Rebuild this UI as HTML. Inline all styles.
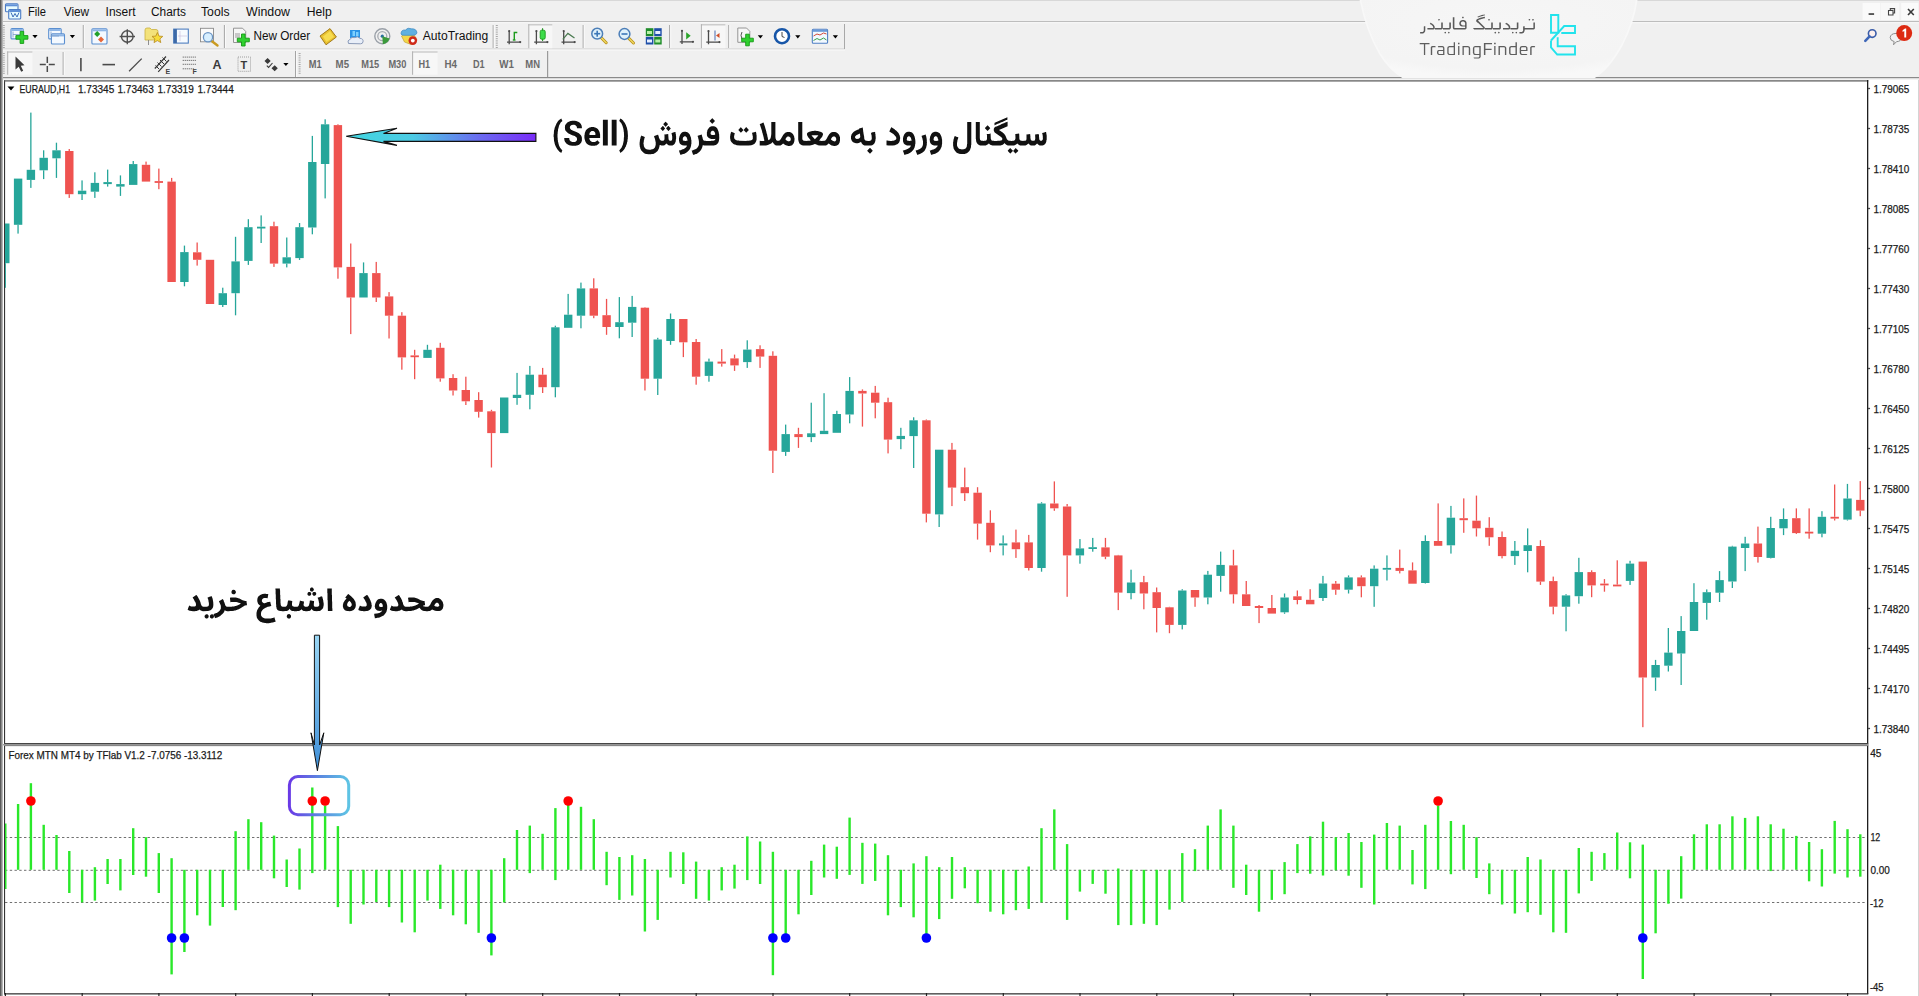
<!DOCTYPE html>
<html><head><meta charset="utf-8"><style>
*{margin:0;padding:0;box-sizing:border-box}
html,body{width:1919px;height:996px;overflow:hidden;background:#f0f0f0;font-family:"Liberation Sans",sans-serif;position:relative}
svg{position:absolute;left:0;top:0}
svg text{font-family:"Liberation Sans",sans-serif}
</style></head><body>
<svg width="1919" height="996" viewBox="0 0 1919 996">
<defs>
<clipPath id="cm"><rect x="5" y="81.4" width="1862" height="661.9"/></clipPath>
<clipPath id="cs"><rect x="5" y="746" width="1862" height="247"/></clipPath>
<linearGradient id="ga" x1="0" y1="0" x2="1" y2="0"><stop offset="0" stop-color="#42d6e0"/><stop offset="0.35" stop-color="#4ccbe4"/><stop offset="0.7" stop-color="#6a6cf0"/><stop offset="1" stop-color="#7a2cf8"/></linearGradient>
<linearGradient id="gv" x1="0" y1="0" x2="0" y2="1"><stop offset="0" stop-color="#9ad6f4"/><stop offset="1" stop-color="#3f8fd8"/></linearGradient>
<linearGradient id="gb" x1="0" y1="0" x2="1" y2="0"><stop offset="0" stop-color="#6a3ae6"/><stop offset="0.5" stop-color="#5b86e0"/><stop offset="1" stop-color="#5ec4e4"/></linearGradient>
<radialGradient id="gl" cx="0.5" cy="0.3" r="0.7"><stop offset="0" stop-color="#f6f6f6"/><stop offset="0.85" stop-color="#f4f4f4"/><stop offset="1" stop-color="#f8f8f8"/></radialGradient>
</defs>
<!-- frame -->
<rect x="0" y="0" width="1" height="996" fill="#5a5a5a"/>
<rect x="1" y="0" width="1" height="996" fill="#8a8a8a"/>
<rect x="2" y="0" width="1" height="996" fill="#b4b4b4"/>
<rect x="3" y="0" width="1916" height="1" fill="#d8d8d8"/>
<rect x="3" y="21" width="1916" height="1.2" fill="#bdbdbd"/>
<rect x="3" y="22.2" width="1916" height="1" fill="#fbfbfb"/>
<rect x="3" y="48.5" width="842" height="1" fill="#cdcdcd"/>
<rect x="3" y="49.5" width="842" height="1" fill="#fafafa"/>
<rect x="3" y="77" width="1916" height="1.2" fill="#8a8a8a"/>
<rect x="3" y="78.2" width="1916" height="1.6" fill="#dcdcdc"/>
<!-- logo overlay -->
<path d="M1360 -2H1637Q1634 22 1622 45Q1608 70 1594 77.5H1403Q1390 70 1380 54Q1366 30 1360 -2Z" fill="url(#gl)" stroke="#f8f8f8" stroke-width="1.6"/>
<path fill="#5a5a5a" d="M1516.2 31.8L1516.1 31.9L1515.9 31.9L1515.6 32.2L1515.5 32.8L1515.9 33.3L1516.4 33.4L1516.5 33.3L1516.8 33.3L1517.0 33.0L1517.2 32.5L1517.0 32.4L1517.0 32.2L1516.8 31.9ZM1512.7 31.8L1512.6 31.9L1512.3 31.9L1512.0 32.2L1511.9 32.7L1512.0 32.8L1512.0 33.0L1512.3 33.3L1512.8 33.4L1513.0 33.3L1513.2 33.3L1513.5 33.0L1513.6 32.5L1513.5 32.4L1513.5 32.2L1513.2 31.9ZM1498.8 31.8L1498.2 32.0L1498.1 32.3L1498.1 33.0L1498.4 33.3L1498.9 33.4L1499.0 33.3L1499.3 33.3L1499.5 33.0L1499.7 32.4L1499.3 31.9ZM1495.2 31.8L1494.7 32.0L1494.5 32.3L1494.5 32.9L1494.7 33.2L1495.2 33.4L1495.5 33.4L1496.1 32.9L1496.1 32.4L1495.7 31.9ZM1448.8 31.8L1448.6 31.9L1448.4 31.9L1448.1 32.2L1448.0 32.8L1448.4 33.3L1448.9 33.4L1449.0 33.3L1449.3 33.3L1449.5 33.0L1449.7 32.5L1449.5 32.4L1449.5 32.2L1449.3 31.9ZM1445.2 31.8L1445.1 31.9L1444.8 31.9L1444.5 32.2L1444.4 32.7L1444.5 32.8L1444.5 33.0L1444.8 33.3L1445.3 33.4L1445.5 33.3L1445.7 33.3L1446.0 33.0L1446.1 32.5L1446.0 32.4L1446.0 32.2L1445.7 31.9ZM1425.3 26.2L1424.4 26.2L1424.3 26.3L1424.0 26.3L1423.8 26.7L1423.8 30.5L1423.4 31.4L1422.6 32.0L1420.1 32.0L1420.1 33.5L1422.6 33.5L1423.6 33.2L1424.4 32.5L1425.1 31.4L1425.1 31.2L1425.2 31.0L1425.2 30.3L1425.3 30.2ZM1534.9 22.4L1533.4 22.4L1533.4 27.9L1533.2 28.0L1524.8 28.0L1524.7 27.9L1524.7 26.2L1523.8 26.2L1523.5 26.3L1523.1 26.8L1523.1 30.7L1522.8 31.3L1521.9 32.0L1519.4 32.0L1519.4 33.5L1521.9 33.5L1522.0 33.4L1522.7 33.3L1523.4 32.9L1523.9 32.4L1524.3 31.8L1524.3 31.5L1524.5 31.0L1524.5 30.7L1524.7 30.5L1524.7 29.7L1524.8 29.5L1533.5 29.5L1534.3 29.2L1534.7 28.8L1534.9 28.2ZM1518.4 22.4L1516.8 22.4L1516.8 27.9L1516.6 28.0L1510.5 28.0L1510.3 27.9L1510.2 26.5L1509.4 25.0L1507.7 23.6L1506.9 23.2L1506.6 22.9L1506.0 22.7L1505.3 23.9L1506.9 24.8L1508.1 25.9L1508.6 26.8L1508.8 27.9L1508.6 28.0L1503.0 28.0L1503.0 29.5L1508.9 29.5L1509.5 29.3L1509.9 28.9L1510.3 28.2L1510.5 28.3L1510.5 29.5L1516.9 29.5L1517.7 29.2L1518.0 28.9L1518.4 28.0ZM1450.9 22.4L1449.3 22.4L1449.3 27.9L1449.1 28.0L1442.8 28.0L1442.7 27.9L1442.8 27.8L1442.8 22.4L1441.2 22.4L1441.2 27.9L1441.1 28.0L1434.8 28.0L1434.7 27.9L1434.8 27.8L1434.7 27.7L1434.7 26.7L1433.8 24.9L1432.3 23.7L1431.1 23.1L1430.9 22.8L1430.5 22.7L1429.8 23.9L1431.4 24.8L1432.4 25.8L1433.0 26.5L1433.1 27.3L1433.2 27.4L1433.2 27.9L1433.1 28.0L1427.4 28.0L1427.4 29.5L1433.4 29.5L1434.1 29.2L1434.8 28.2L1434.9 28.3L1434.9 29.5L1441.2 29.5L1441.9 29.3L1442.6 28.7L1442.8 28.2L1443.0 28.3L1443.0 29.5L1449.3 29.5L1449.9 29.3L1450.7 28.4L1450.7 27.9L1450.9 27.8ZM1532.8 18.9L1532.3 19.2L1532.2 19.4L1532.2 20.2L1532.4 20.4L1533.0 20.6L1533.1 20.4L1533.4 20.4L1533.6 20.2L1533.8 19.6L1533.4 19.1ZM1529.3 18.9L1528.8 19.2L1528.6 19.4L1528.6 20.1L1528.8 20.3L1529.3 20.6L1529.5 20.6L1530.2 20.1L1530.2 19.6L1529.8 19.1ZM1488.9 18.9L1488.4 19.3L1488.2 19.6L1488.2 20.1L1488.6 20.4L1489.1 20.6L1489.8 20.2L1489.8 19.4L1489.7 19.2L1489.1 18.9ZM1438.9 18.9L1438.4 19.2L1438.2 19.4L1438.2 20.2L1438.9 20.6L1439.1 20.6L1439.8 20.1L1439.8 19.6L1439.4 19.1ZM1452.8 17.3L1452.8 27.8L1453.0 27.9L1453.0 28.4L1453.5 29.2L1454.3 29.5L1464.9 29.5L1465.1 29.4L1465.7 29.3L1466.4 28.7L1466.5 28.0L1466.6 27.9L1466.6 22.9L1466.5 22.8L1466.5 22.3L1466.1 21.4L1465.6 20.8L1464.5 20.2L1463.6 20.1L1463.5 19.9L1462.7 19.9L1462.6 20.1L1461.5 20.2L1460.5 20.8L1459.7 21.8L1459.7 22.1L1459.4 22.4L1459.4 22.8L1459.3 22.9L1459.3 23.9L1459.4 24.1L1459.4 24.5L1459.9 25.4L1460.6 26.0L1461.1 26.3L1461.9 26.4L1462.0 26.5L1464.9 26.5L1465.1 26.7L1465.1 27.9L1464.9 28.0L1454.5 28.0L1454.4 27.9L1454.4 17.2L1453.0 17.2ZM1461.8 21.7L1462.3 21.4L1463.5 21.4L1464.7 22.2L1465.1 22.9L1465.1 25.3L1464.9 25.4L1462.7 25.4L1462.6 25.3L1462.2 25.3L1461.0 24.3L1461.0 24.1L1460.9 23.9L1460.9 22.9L1461.2 22.2ZM1473.0 28.0L1474.1 29.5L1483.4 29.5L1484.0 29.3L1484.4 28.9L1484.8 28.2L1484.9 28.3L1484.9 29.5L1491.4 29.5L1492.2 29.2L1492.4 28.9L1492.8 28.0L1493.0 28.2L1493.0 29.5L1499.4 29.5L1500.2 29.2L1500.6 28.8L1500.9 28.2L1500.9 22.4L1499.3 22.4L1499.3 27.9L1499.1 28.0L1493.0 28.0L1492.8 27.9L1492.8 22.4L1491.2 22.4L1491.2 27.9L1491.1 28.0L1484.9 28.0L1484.8 27.9L1484.8 27.5L1484.5 26.9L1478.0 20.6L1478.0 20.4L1479.0 19.8L1479.3 19.8L1479.9 19.4L1480.2 19.4L1481.5 18.9L1481.9 18.9L1482.4 18.7L1482.8 18.7L1483.0 18.6L1484.9 18.2L1484.9 16.8L1483.5 16.9L1483.4 17.1L1481.4 17.4L1481.2 17.6L1479.4 18.1L1478.8 18.4L1478.5 18.4L1476.9 19.3L1476.5 19.7L1476.2 20.3L1476.2 21.2L1476.5 21.7L1477.6 22.7L1478.0 22.7L1483.4 27.9L1483.2 28.0ZM1462.8 16.7L1462.7 16.8L1462.4 16.8L1462.2 17.1L1462.0 17.6L1462.2 17.7L1462.2 17.9L1462.4 18.2L1463.0 18.3L1463.1 18.2L1463.4 18.2L1463.6 17.9L1463.8 17.4L1463.6 17.3L1463.6 17.1L1463.4 16.8ZM1484.8 14.6L1483.2 14.7L1483.1 14.8L1481.6 15.1L1480.7 15.4L1480.3 15.4L1479.9 15.7L1479.7 15.7L1478.6 16.2L1478.4 16.2L1477.4 16.7L1477.4 16.8L1478.0 17.6L1479.1 16.9L1479.4 16.9L1479.8 16.7L1480.1 16.7L1481.0 16.3L1481.9 16.2L1482.4 15.9L1482.8 15.9L1483.0 15.8L1483.4 15.8L1484.0 15.6L1484.5 15.6L1484.8 15.4Z"/>
<path fill="#5e5e5e" d="M1534.5 46.1L1531.8 46.1L1530.9 46.4L1530.2 47.2L1530.2 55.0L1531.6 55.0L1531.6 47.6L1531.8 47.4L1532.4 47.2L1535.1 47.2L1535.1 46.6ZM1520.8 46.4L1520.4 46.6L1520.1 47.1L1519.9 47.6L1519.9 47.9L1519.7 48.0L1519.7 53.1L1519.9 53.2L1519.9 53.5L1520.1 54.1L1520.8 54.7L1521.7 55.0L1526.5 55.0L1527.2 54.5L1527.2 54.0L1522.1 54.0L1521.6 53.7L1521.1 53.1L1521.1 51.1L1521.2 51.0L1527.5 51.0L1527.5 48.3L1527.4 48.2L1527.4 47.6L1527.2 47.3L1527.2 47.1L1526.5 46.4L1525.6 46.1L1521.7 46.1ZM1521.1 47.9L1521.7 47.3L1521.9 47.3L1522.0 47.2L1525.2 47.2L1525.3 47.3L1525.6 47.3L1525.9 47.6L1526.1 48.0L1526.1 49.9L1526.0 50.0L1521.2 50.0L1521.1 49.9ZM1498.5 46.1L1498.5 55.0L1499.9 55.0L1499.9 47.3L1500.0 47.2L1504.0 47.2L1504.1 47.3L1504.3 47.3L1504.8 47.7L1504.9 47.9L1504.9 55.0L1506.3 55.0L1506.3 47.9L1506.2 47.8L1506.2 47.5L1505.7 46.7L1505.2 46.4L1504.3 46.1ZM1494.2 46.1L1494.2 55.0L1495.5 55.0L1495.5 46.1ZM1474.4 46.2L1474.0 46.4L1473.3 47.1L1473.3 47.3L1473.1 47.7L1473.1 48.2L1472.9 48.3L1472.9 52.9L1473.1 53.0L1473.2 53.7L1473.4 54.2L1474.0 54.7L1474.5 54.9L1474.9 54.9L1475.0 55.0L1479.2 55.0L1479.3 55.2L1479.3 56.6L1479.2 56.7L1479.2 56.9L1478.9 57.2L1478.3 57.5L1473.7 57.5L1473.7 58.1L1474.3 58.5L1478.8 58.5L1478.9 58.4L1479.5 58.3L1480.4 57.6L1480.7 56.7L1480.7 46.1L1474.9 46.1L1474.8 46.2ZM1474.9 47.3L1475.1 47.3L1475.2 47.2L1479.2 47.2L1479.3 47.3L1479.3 53.8L1479.2 54.0L1475.5 54.0L1475.3 53.8L1475.0 53.8L1474.5 53.5L1474.3 53.0L1474.3 48.0L1474.5 47.6ZM1462.5 46.1L1462.5 55.0L1463.8 55.0L1463.8 47.3L1463.9 47.2L1467.8 47.2L1468.5 47.5L1468.8 48.2L1468.8 55.0L1470.2 55.0L1470.2 48.6L1470.1 48.5L1470.1 47.7L1469.8 47.0L1469.2 46.4L1468.7 46.2L1468.3 46.2L1468.2 46.1ZM1458.1 46.1L1458.1 55.0L1459.4 55.0L1459.4 46.1ZM1438.5 46.1L1437.9 46.5L1437.9 47.2L1442.1 47.2L1442.3 47.3L1442.5 47.3L1443.1 47.9L1443.1 49.8L1442.9 49.9L1438.9 49.9L1438.8 50.0L1438.5 50.0L1437.6 50.6L1437.2 51.1L1437.1 51.8L1437.0 51.9L1437.0 53.0L1437.1 53.1L1437.1 53.5L1437.5 54.2L1437.9 54.6L1438.6 54.9L1439.1 54.9L1439.2 55.0L1444.4 55.0L1444.4 47.9L1444.0 46.8L1443.6 46.5L1442.5 46.1ZM1438.5 51.4L1438.9 51.0L1439.2 51.0L1439.3 50.9L1442.9 50.9L1443.1 51.0L1443.1 53.8L1442.9 54.0L1439.4 54.0L1438.8 53.7L1438.4 53.1L1438.4 51.8L1438.5 51.7ZM1435.1 46.1L1432.3 46.1L1431.2 46.6L1430.8 47.1L1430.8 55.0L1432.2 55.0L1432.2 47.6L1432.4 47.4L1433.0 47.2L1435.6 47.2L1435.6 46.5ZM1492.0 43.1L1483.9 43.1L1483.9 55.0L1485.4 55.0L1485.4 50.0L1485.5 49.9L1491.6 49.9L1491.6 48.7L1485.5 48.7L1485.4 48.6L1485.4 44.4L1485.5 44.3L1492.0 44.3ZM1419.7 43.1L1419.7 44.3L1423.8 44.3L1423.9 44.4L1423.9 55.0L1425.2 55.0L1425.2 44.4L1425.4 44.3L1429.5 44.3L1429.5 43.1ZM1494.2 42.7L1494.1 42.8L1494.1 44.2L1495.7 44.2L1495.7 42.8L1495.5 42.7ZM1458.0 42.7L1458.0 44.2L1459.5 44.2L1459.5 42.7ZM1516.9 42.3L1515.5 42.3L1515.5 46.0L1515.4 46.1L1511.1 46.1L1509.9 46.5L1509.6 46.8L1509.2 47.5L1509.2 47.8L1509.1 47.9L1509.1 53.2L1509.2 53.3L1509.2 53.6L1509.7 54.4L1510.6 54.9L1511.0 54.9L1511.1 55.0L1516.9 55.0ZM1511.1 47.3L1511.3 47.3L1511.4 47.2L1515.4 47.2L1515.5 47.3L1515.5 53.8L1515.4 54.0L1511.5 54.0L1511.0 53.7L1510.6 53.4L1510.5 53.2L1510.5 47.9ZM1455.0 42.3L1453.7 42.3L1453.7 46.0L1453.5 46.1L1449.2 46.1L1448.3 46.4L1448.0 46.6L1447.6 47.1L1447.4 47.6L1447.4 47.9L1447.3 48.0L1447.3 53.1L1447.4 53.2L1447.4 53.5L1447.6 54.1L1448.3 54.7L1449.2 55.0L1455.0 55.0ZM1449.2 47.3L1449.4 47.3L1449.6 47.2L1453.5 47.2L1453.7 47.3L1453.7 53.8L1453.5 54.0L1449.7 54.0L1449.1 53.7L1448.9 53.5L1448.6 53.1L1448.6 47.9Z"/>
<g fill="none" stroke="#22e3ec" stroke-width="1.9" stroke-linejoin="miter">
<path d="M1551 15H1558.3V32.8H1551Z"/>
<path d="M1551 40.5L1564.2 26H1575V33H1561.3"/>
<path d="M1551 40.5V47.3L1557.2 54.5H1575V46.2H1557.7V37.3"/>
</g>
<!-- window controls -->
<rect x="1862.6" y="3" width="17.5" height="17" fill="#fafafa"/>
<rect x="1880.6" y="3" width="18.6" height="17" fill="#f8f8f8"/>
<rect x="1901.2" y="3" width="17.1" height="17" fill="#fafafa"/>
<rect x="1868.6" y="13.2" width="5.5" height="1.7" fill="#444"/>
<path d="M1888.5 10.5H1893V15H1888.5Z M1890.3 10V8.6H1894.6V13H1893.2" fill="none" stroke="#444" stroke-width="1.1"/>
<path d="M1908 9L1913.8 15M1913.8 9L1908 15" stroke="#3a3a3a" stroke-width="1.6"/>
<!-- search + chat -->
<circle cx="1872.2" cy="33.6" r="3.8" fill="#fdf0ee" stroke="#3a5ca8" stroke-width="1.6"/>
<path d="M1869.6 36.4L1865.3 40.8" stroke="#3e67b8" stroke-width="2.6" stroke-linecap="round"/>
<path d="M1893.5 44.8L1894.2 41.6Q1890.2 40.6 1890.2 37.6Q1890.5 33.6 1896 33.4Q1901.5 33.6 1901.5 37.6Q1901.3 41.4 1896.5 41.7Z" fill="#f2f2f2" stroke="#8c8c8c" stroke-width="1"/>
<circle cx="1904.2" cy="33.1" r="8" fill="#dd2a12"/>
<path d="M1902.6 30.2L1905 28.6H1906.2V37.6H1904.3V31L1902.6 31.9Z" fill="#fff"/>
<rect x="5.5" y="3.8" width="12.5" height="8" rx="1" fill="#e8fbff" stroke="#4d7cc4" stroke-width="1.1"/><rect x="6" y="4.3" width="11.5" height="2" fill="#5f8fd6"/><rect x="8.7" y="9.5" width="12" height="9.5" rx="1" fill="#e8fbff" stroke="#4d7cc4" stroke-width="1.1"/><rect x="9.2" y="10" width="11" height="2" fill="#5f8fd6"/><path d="M11 12.5L13 17L15 13.5L17 17L19 12.5" stroke="#3f6fb8" stroke-width="1" fill="none"/><rect x="2.8" y="25" width="2" height="1" fill="#a8a8a8"/><rect x="2.8" y="27.2" width="2" height="1" fill="#a8a8a8"/><rect x="2.8" y="29.4" width="2" height="1" fill="#a8a8a8"/><rect x="2.8" y="31.599999999999998" width="2" height="1" fill="#a8a8a8"/><rect x="2.8" y="33.8" width="2" height="1" fill="#a8a8a8"/><rect x="2.8" y="36.0" width="2" height="1" fill="#a8a8a8"/><rect x="2.8" y="38.2" width="2" height="1" fill="#a8a8a8"/><rect x="2.8" y="40.400000000000006" width="2" height="1" fill="#a8a8a8"/><rect x="2.8" y="42.60000000000001" width="2" height="1" fill="#a8a8a8"/><rect x="2.8" y="44.80000000000001" width="2" height="1" fill="#a8a8a8"/><rect x="2.8" y="47.000000000000014" width="2" height="1" fill="#a8a8a8"/><rect x="11.0" y="28.5" width="12.2" height="10.4" rx="1" fill="#f4f9ff" stroke="#5b8fd0" stroke-width="1.1"/><rect x="11.5" y="29" width="11.2" height="2" fill="#8fb6e6"/><path d="M13 31.5V37.5M13 34.5H20" stroke="#7a9cc8" stroke-width="0.8"/><path d="M20.099999999999998 31.4H23.7V35.6H27.9V39.199999999999996H23.7V43.4H20.099999999999998V39.199999999999996H15.899999999999999V35.6H20.099999999999998Z" fill="#2fd12f" stroke="#139a13" stroke-width="0.9"/><path d="M32.4 35H37.6L35.0 38.2Z" fill="#000"/><rect x="48.7" y="28.5" width="12.5" height="10.4" rx="1" fill="#f4f9ff" stroke="#5b8fd0" stroke-width="1.1"/><rect x="49.2" y="29" width="11.5" height="2" fill="#8fb6e6"/><rect x="51.4" y="33.9" width="13.1" height="10.1" rx="1" fill="#f4f9ff" stroke="#5b8fd0" stroke-width="1.1"/><rect x="51.9" y="34.4" width="12.1" height="2" fill="#8fb6e6"/><path d="M51 31.5V37M51 36H59" stroke="#7a9cc8" stroke-width="0.8"/><path d="M69.8 35H75.0L72.39999999999999 38.2Z" fill="#000"/><rect x="82.8" y="25" width="1" height="23" fill="#9c9c9c"/><rect x="83.8" y="25" width="1" height="23" fill="#fbfbfb"/><rect x="91.9" y="28.8" width="15.100000000000001" height="15.2" rx="1" fill="#f4f9ff" stroke="#5b8fd0" stroke-width="1.1"/><rect x="92.4" y="29.3" width="14.100000000000001" height="2" fill="#8fb6e6"/><path d="M97.2 31L100.2 34L97.2 37L94.2 34Z" fill="#1f9f2a"/><path d="M101 36.4L104 39.4L101 42.4L98 39.4Z" fill="#e8683a"/><circle cx="127.3" cy="36.5" r="5.8" fill="none" stroke="#505050" stroke-width="1.4"/><path d="M119.6 36.5H135M127.3 29.2V44.2" stroke="#505050" stroke-width="1.4"/><path d="M145 30Q145 28 147 28H150L151.5 29.5H156Q158 29.5 158 31.5V40H145Z" fill="#f3e27a" stroke="#c9b040" stroke-width="0.8"/><path d="M148.5 40V45" stroke="#777" stroke-width="0.8"/><path d="M157.4 32.5L159 36.1L162.8 36.4L159.9 38.9L160.8 42.6L157.4 40.6L154 42.6L154.9 38.9L152 36.4L155.8 36.1Z" fill="#f6dc3a" stroke="#b88a20" stroke-width="0.8"/><rect x="173.7" y="29.1" width="14.6" height="14" fill="#f7fbff" stroke="#4f7fc0" stroke-width="1.1"/><rect x="173.7" y="29.1" width="3.2" height="14" fill="#3d6aa8"/><path d="M180 31V41M178 36H187" stroke="#c8b8d8" stroke-width="0.6"/><rect x="200.5" y="28.3" width="13" height="13.5" fill="#fafafa" stroke="#8a8a8a" stroke-width="0.9"/><path d="M211 40.5L217.5 45.5" stroke="#c99a20" stroke-width="2.4" stroke-linecap="round"/><circle cx="208" cy="37.2" r="4.6" fill="#d7efff" stroke="#6a94c4" stroke-width="1.3"/><rect x="223.9" y="25" width="1" height="23" fill="#9c9c9c"/><rect x="224.9" y="25" width="1" height="23" fill="#fbfbfb"/><path d="M233.5 28.2H242.5L245.7 31.4V42.5H233.5Z" fill="#f6f6f6" stroke="#8a8a8a" stroke-width="0.9"/><rect x="235" y="33" width="5" height="5" fill="#c8c8c8"/><path d="M241.5 34H245.10000000000002V38.2H249.3V41.8H245.10000000000002V46H241.5V41.8H237.3V38.2H241.5Z" fill="#2fd12f" stroke="#139a13" stroke-width="0.9"/><path d="M320 36L330 28.6L336.4 37L326 44.8Z" fill="#e8c030" stroke="#9a7010" stroke-width="0.9"/><path d="M323 36.5L330 31L334 37L326.5 42Z" fill="#f7dc50"/><path d="M350 30H360V38H350Z" fill="#2a93e6"/><path d="M352.5 31H355V36H352.5Z M356 32H358.5V36H356Z" fill="#7cd0ff"/><path d="M348.5 43.5Q346.8 40.5 350 39.3Q351.5 36.6 354.8 37.6Q357.5 35.8 360 38.3Q363.6 38.7 363 41.8Q362.8 43.8 360.5 43.8Z" fill="#e8eef8" stroke="#8a9ab8" stroke-width="1"/><circle cx="382.3" cy="36.2" r="7.5" fill="none" stroke="#9aa0a8" stroke-width="1.4"/><circle cx="382.3" cy="36.2" r="4.5" fill="none" stroke="#a8acb2" stroke-width="1.3"/><circle cx="382.3" cy="36.2" r="1.6" fill="#2a6fa0"/><path d="M382.3 36.2L382.8 44.3Q388 43 389.6 38.5" fill="#3b9a3b"/><path d="M401.5 36L405 33L414.5 35.5L417 40L411 44.5L404.5 42Z" fill="#f3d84a" stroke="#c0a030" stroke-width="0.7"/><path d="M401 34Q401 29.5 405.5 30Q407.5 27 411.5 28.8Q416.5 28.5 417 33Q416 35.5 413 35.3L404 35.3Q401.5 35.5 401 34Z" fill="#5fb0e0" stroke="#3c86c0" stroke-width="0.7"/><circle cx="412.8" cy="40.6" r="4.3" fill="#cf2a1a"/><circle cx="412.8" cy="40.6" r="1.9" fill="#fff"/><rect x="495.8" y="25" width="2" height="1" fill="#a8a8a8"/><rect x="495.8" y="27.2" width="2" height="1" fill="#a8a8a8"/><rect x="495.8" y="29.4" width="2" height="1" fill="#a8a8a8"/><rect x="495.8" y="31.599999999999998" width="2" height="1" fill="#a8a8a8"/><rect x="495.8" y="33.8" width="2" height="1" fill="#a8a8a8"/><rect x="495.8" y="36.0" width="2" height="1" fill="#a8a8a8"/><rect x="495.8" y="38.2" width="2" height="1" fill="#a8a8a8"/><rect x="495.8" y="40.400000000000006" width="2" height="1" fill="#a8a8a8"/><rect x="495.8" y="42.60000000000001" width="2" height="1" fill="#a8a8a8"/><rect x="495.8" y="44.80000000000001" width="2" height="1" fill="#a8a8a8"/><rect x="495.8" y="47.000000000000014" width="2" height="1" fill="#a8a8a8"/><rect x="492.7" y="25" width="1" height="23" fill="#9c9c9c"/><rect x="493.7" y="25" width="1" height="23" fill="#fbfbfb"/><path d="M509.2 31.1V44.300000000000004M507.0 42.1H520.2" stroke="#4a4a4a" stroke-width="1.3" fill="none"/><circle cx="509.2" cy="31.1" r="1.1" fill="#4a4a4a"/><circle cx="520.2" cy="42.1" r="1.1" fill="#4a4a4a"/><path d="M514.3 40V32.5H517.3" stroke="#1d9a1d" stroke-width="1.4" fill="none"/><path d="M512.8 40H515.5" stroke="#1d9a1d" stroke-width="1.4"/><rect x="528.3" y="24.2" width="24" height="24" fill="#f7f7f7"/><rect x="528.3" y="24.2" width="24" height="1.2" fill="#c4c4c4"/><rect x="528.3" y="24.2" width="1" height="24" fill="#b0b0b0"/><path d="M536.4 31.1V44.300000000000004M534.1999999999999 42.1H547.4" stroke="#4a4a4a" stroke-width="1.3" fill="none"/><circle cx="536.4" cy="31.1" r="1.1" fill="#4a4a4a"/><circle cx="547.4" cy="42.1" r="1.1" fill="#4a4a4a"/><path d="M542.6 28.2V41" stroke="#1a8c1a" stroke-width="1"/><rect x="540.2" y="30.2" width="5" height="9" rx="1.5" fill="#3ddc4a" stroke="#1a9a1a" stroke-width="0.9"/><path d="M563.7 31.1V44.300000000000004M561.5 42.1H574.7" stroke="#4a4a4a" stroke-width="1.3" fill="none"/><circle cx="563.7" cy="31.1" r="1.1" fill="#4a4a4a"/><circle cx="574.7" cy="42.1" r="1.1" fill="#4a4a4a"/><path d="M562.8 39.4L567.9 33.4L574.5 37.9" stroke="#4a7a50" stroke-width="1.2" fill="none"/><rect x="582.7" y="25" width="1" height="23" fill="#9c9c9c"/><rect x="583.7" y="25" width="1" height="23" fill="#fbfbfb"/><path d="M600.8000000000001 37.300000000000004L606.2 42.7" stroke="#b8901a" stroke-width="3" stroke-linecap="round"/><path d="M600.8000000000001 37.300000000000004L606.2 42.7" stroke="#f0d860" stroke-width="1.4" stroke-linecap="round"/><circle cx="597.2" cy="33.7" r="5.4" fill="#dff1fb" stroke="#4d7fb8" stroke-width="1.5"/><rect x="594.2" y="32.900000000000006" width="6" height="1.6" fill="#3d78b8"/><rect x="596.4000000000001" y="30.700000000000003" width="1.6" height="6" fill="#3d78b8"/><path d="M628.1 37.6L633.5 43" stroke="#b8901a" stroke-width="3" stroke-linecap="round"/><path d="M628.1 37.6L633.5 43" stroke="#f0d860" stroke-width="1.4" stroke-linecap="round"/><circle cx="624.5" cy="34" r="5.4" fill="#dff1fb" stroke="#4d7fb8" stroke-width="1.5"/><rect x="621.5" y="33.2" width="6" height="1.6" fill="#3d78b8"/><rect x="645.8" y="28.2" width="7.6" height="7.9" fill="#1f8c2a"/><rect x="654.2" y="28.2" width="7.5" height="7.9" fill="#1f4fa8"/><rect x="645.8" y="36.8" width="7.6" height="7.7" fill="#1f4fa8"/><rect x="654.2" y="36.8" width="7.5" height="7.7" fill="#1f8c2a"/><rect x="647" y="31" width="5" height="3" fill="#b8f0a8"/><rect x="655.3" y="31" width="5" height="3" fill="#e8f0ff"/><rect x="647" y="39.5" width="5" height="3" fill="#e8f0ff"/><rect x="655.3" y="39.5" width="5" height="3" fill="#b8f0a8"/><rect x="669.2" y="25" width="1" height="23" fill="#9c9c9c"/><rect x="670.2" y="25" width="1" height="23" fill="#fbfbfb"/><path d="M682 30.799999999999997V44.0M679.8 41.8H693" stroke="#4a4a4a" stroke-width="1.3" fill="none"/><circle cx="682" cy="30.799999999999997" r="1.1" fill="#4a4a4a"/><circle cx="693" cy="41.8" r="1.1" fill="#4a4a4a"/><path d="M686.2 32.2L690.7 35.8L686.2 39.4Z" fill="#2aa42a"/><rect x="700.9" y="24.2" width="24.5" height="24" fill="#f7f7f7"/><rect x="700.9" y="24.2" width="24.5" height="1.2" fill="#c4c4c4"/><rect x="700.9" y="24.2" width="1" height="24" fill="#b0b0b0"/><path d="M708.5 31.1V44.300000000000004M706.3 42.1H719.5" stroke="#4a4a4a" stroke-width="1.3" fill="none"/><circle cx="708.5" cy="31.1" r="1.1" fill="#4a4a4a"/><circle cx="719.5" cy="42.1" r="1.1" fill="#4a4a4a"/><path d="M715 30.5V40.5" stroke="#5878b8" stroke-width="1.1"/><path d="M716 35.5L719.5 33V38Z" fill="#d0502a"/><rect x="728.3" y="25" width="1" height="23" fill="#9c9c9c"/><rect x="729.3" y="25" width="1" height="23" fill="#fbfbfb"/><path d="M737.8 28H746.5L749.8 31.3V42.3H737.8Z" fill="#f7f7f7" stroke="#8a8a8a" stroke-width="0.9"/><path d="M742 32Q740 35 742 39" stroke="#555" stroke-width="1" fill="none"/><path d="M745.7 34.2H749.3V38.2H753.3V41.8H749.3V45.8H745.7V41.8H741.7V38.2H745.7Z" fill="#2fd12f" stroke="#139a13" stroke-width="0.9"/><path d="M757.8 35.2H763.0L760.4 38.400000000000006Z" fill="#000"/><circle cx="782" cy="36.2" r="7" fill="#fff" stroke="#1756a8" stroke-width="2.6"/><path d="M782 32V36.5L784.5 37.5" stroke="#333" stroke-width="0.9" fill="none"/><path d="M795.2 35.2H800.4000000000001L797.8000000000001 38.400000000000006Z" fill="#000"/><rect x="812.3" y="29.3" width="15.3" height="13.9" rx="1" fill="#f2f8ff" stroke="#4f7fc4" stroke-width="1.1"/><rect x="812.8" y="29.8" width="14.3" height="2" fill="#6a9ad8"/><path d="M813.5 36L817 34L820 35L823.5 33L826.5 34" stroke="#d04a3a" stroke-width="1" fill="none"/><path d="M813.5 40.5L817 38.5L820 40L823.5 38L826.5 40" stroke="#3aa04a" stroke-width="1" fill="none"/><path d="M832.8 35.2H838.0L835.4 38.400000000000006Z" fill="#000"/><rect x="844" y="24" width="1" height="25" fill="#a8a8a8"/><rect x="2.8" y="53" width="2" height="1" fill="#a8a8a8"/><rect x="2.8" y="55.2" width="2" height="1" fill="#a8a8a8"/><rect x="2.8" y="57.400000000000006" width="2" height="1" fill="#a8a8a8"/><rect x="2.8" y="59.60000000000001" width="2" height="1" fill="#a8a8a8"/><rect x="2.8" y="61.80000000000001" width="2" height="1" fill="#a8a8a8"/><rect x="2.8" y="64.00000000000001" width="2" height="1" fill="#a8a8a8"/><rect x="2.8" y="66.20000000000002" width="2" height="1" fill="#a8a8a8"/><rect x="2.8" y="68.40000000000002" width="2" height="1" fill="#a8a8a8"/><rect x="2.8" y="70.60000000000002" width="2" height="1" fill="#a8a8a8"/><rect x="2.8" y="72.80000000000003" width="2" height="1" fill="#a8a8a8"/><rect x="7.2" y="51.4" width="25.2" height="23.4" fill="#f7f7f7"/><rect x="7.2" y="51.4" width="25.2" height="1.2" fill="#c4c4c4"/><rect x="7.2" y="51.4" width="1" height="23.4" fill="#b0b0b0"/><path d="M15.5 56.5L15.5 69.5L18.7 66.7L21.2 71.8L23.2 70.8L20.8 65.8L24.5 65.3Z" fill="#3a3a3a"/><path d="M39.8 64.6H45.8M48.8 64.6H54.8M47.3 56.8V63.1M47.3 66.1V72" stroke="#4a4a4a" stroke-width="1.5"/><rect x="62.7" y="52" width="1" height="23" fill="#9c9c9c"/><rect x="63.7" y="52" width="1" height="23" fill="#fbfbfb"/><path d="M80.9 58V71.2" stroke="#4a4a4a" stroke-width="1.6"/><path d="M102.5 64.6H115" stroke="#4a4a4a" stroke-width="1.6"/><path d="M129.1 71.2L141.7 58.6" stroke="#4a4a4a" stroke-width="1.3"/><path d="M154.8 68.5L166 56.5M158.2 71.8L169 60" stroke="#3a3a3a" stroke-width="1.2"/><path d="M157.5 62.5L161.5 66.5M160 60L164 64M162.5 57.5L166.5 61.5M155.5 65.5L159 69" stroke="#3a3a3a" stroke-width="1"/><text x="165.6" y="73.6" font-size="7" font-weight="bold" fill="#444">E</text><path d="M182.7 57.1H196M182.7 60.4H196M182.7 64.3H196M182.7 68.8H194" stroke="#5a5a5a" stroke-width="0.9" stroke-dasharray="1.2 0.8"/><text x="192.4" y="73.6" font-size="7" font-weight="bold" fill="#444">F</text><text x="212.6" y="69.4" font-size="12.5" font-weight="bold" fill="#3a3a3a">A</text><rect x="238" y="57" width="12.5" height="14.3" fill="none" stroke="#888" stroke-width="0.8" stroke-dasharray="1 1"/><text x="240.6" y="69" font-size="11" font-weight="bold" fill="#3a3a3a">T</text><path d="M264.5 61L267.6 58L270.7 61L267.6 64Z M271.5 68.2L274.7 65.2L277.8 68.2L274.7 71.2Z" fill="#3a3a3a"/><path d="M266.8 65.6L268.6 67.4L272.5 63" stroke="#3a3a3a" stroke-width="1.1" fill="none"/><path d="M283.3 62.9H288.5L285.90000000000003 66.1Z" fill="#000"/><rect x="295.1" y="51" width="1" height="26" fill="#9c9c9c"/><rect x="296.1" y="51" width="1" height="26" fill="#fbfbfb"/><rect x="298.6" y="53" width="2" height="1" fill="#a8a8a8"/><rect x="298.6" y="55.2" width="2" height="1" fill="#a8a8a8"/><rect x="298.6" y="57.400000000000006" width="2" height="1" fill="#a8a8a8"/><rect x="298.6" y="59.60000000000001" width="2" height="1" fill="#a8a8a8"/><rect x="298.6" y="61.80000000000001" width="2" height="1" fill="#a8a8a8"/><rect x="298.6" y="64.00000000000001" width="2" height="1" fill="#a8a8a8"/><rect x="298.6" y="66.20000000000002" width="2" height="1" fill="#a8a8a8"/><rect x="298.6" y="68.40000000000002" width="2" height="1" fill="#a8a8a8"/><rect x="298.6" y="70.60000000000002" width="2" height="1" fill="#a8a8a8"/><rect x="298.6" y="72.80000000000003" width="2" height="1" fill="#a8a8a8"/><rect x="412.1" y="51.4" width="25.5" height="23.4" fill="#f7f7f7"/><rect x="412.1" y="51.4" width="25.5" height="1.2" fill="#c4c4c4"/><rect x="412.1" y="51.4" width="1" height="23.4" fill="#b0b0b0"/><text x="308.8" y="68.3" font-size="10.2" font-weight="bold" fill="#6a6a6a" textLength="12.9" lengthAdjust="spacingAndGlyphs">M1</text><text x="335.6" y="68.3" font-size="10.2" font-weight="bold" fill="#6a6a6a" textLength="13.4" lengthAdjust="spacingAndGlyphs">M5</text><text x="361.2" y="68.3" font-size="10.2" font-weight="bold" fill="#6a6a6a" textLength="18.0" lengthAdjust="spacingAndGlyphs">M15</text><text x="388.4" y="68.3" font-size="10.2" font-weight="bold" fill="#6a6a6a" textLength="18.0" lengthAdjust="spacingAndGlyphs">M30</text><text x="418.4" y="68.3" font-size="10.2" font-weight="bold" fill="#6a6a6a" textLength="11.7" lengthAdjust="spacingAndGlyphs">H1</text><text x="444.5" y="68.3" font-size="10.2" font-weight="bold" fill="#6a6a6a" textLength="12.5" lengthAdjust="spacingAndGlyphs">H4</text><text x="472.9" y="68.3" font-size="10.2" font-weight="bold" fill="#6a6a6a" textLength="11.7" lengthAdjust="spacingAndGlyphs">D1</text><text x="499.2" y="68.3" font-size="10.2" font-weight="bold" fill="#6a6a6a" textLength="14.7" lengthAdjust="spacingAndGlyphs">W1</text><text x="525.3" y="68.3" font-size="10.2" font-weight="bold" fill="#6a6a6a" textLength="14.7" lengthAdjust="spacingAndGlyphs">MN</text><rect x="547" y="51" width="1.2" height="26" fill="#9a9a9a"/>
<g font-size="12" fill="#101010">
<text x="28" y="15.6" textLength="18" lengthAdjust="spacingAndGlyphs">File</text><text x="63.7" y="15.6" textLength="25.5" lengthAdjust="spacingAndGlyphs">View</text><text x="105.6" y="15.6" textLength="30" lengthAdjust="spacingAndGlyphs">Insert</text><text x="151" y="15.6" textLength="35" lengthAdjust="spacingAndGlyphs">Charts</text><text x="201" y="15.6" textLength="28.5" lengthAdjust="spacingAndGlyphs">Tools</text><text x="246" y="15.6" textLength="44" lengthAdjust="spacingAndGlyphs">Window</text><text x="306.8" y="15.6" textLength="25" lengthAdjust="spacingAndGlyphs">Help</text>
<text x="253.4" y="40" textLength="56.8" lengthAdjust="spacingAndGlyphs">New Order</text>
<text x="422.8" y="40" textLength="65.5" lengthAdjust="spacingAndGlyphs">AutoTrading</text>
</g>
<!-- chart window -->
<rect x="3" y="79.4" width="1916" height="916.6" fill="#fff"/>
<rect x="4" y="80.3" width="1.1" height="914" fill="#333"/>
<rect x="4" y="80.3" width="1864.3" height="1.2" fill="#555"/>
<rect x="1867" y="80" width="1.3" height="914" fill="#1e1e1e"/>
<rect x="1918" y="79.8" width="1" height="916.2" fill="#d4d4d4"/>
<rect x="3" y="743" width="1865.3" height="3" fill="#fff"/><rect x="4" y="743" width="1864.3" height="1.1" fill="#454545"/>
<rect x="3" y="744.1" width="1865.3" height="1.3" fill="#8c8c8c"/><rect x="4" y="745.4" width="1864.3" height="0.7" fill="#555"/>
<rect x="4" y="993.2" width="1864.3" height="1.3" fill="#3a3a3a"/>
<g clip-path="url(#cm)"><rect x="4.6" y="263.2" width="1.3" height="24.6" fill="#26a69a"/><rect x="1.1" y="223.5" width="8.4" height="39.7" fill="#26a69a"/><rect x="17.4" y="224.8" width="1.3" height="8.8" fill="#26a69a"/><rect x="13.9" y="178.6" width="8.4" height="46.2" fill="#26a69a"/><rect x="30.2" y="112.6" width="1.3" height="57.2" fill="#26a69a"/><rect x="30.2" y="179.9" width="1.3" height="8.0" fill="#26a69a"/><rect x="26.7" y="169.8" width="8.4" height="10.1" fill="#26a69a"/><rect x="43.0" y="150.3" width="1.3" height="7.5" fill="#26a69a"/><rect x="43.0" y="170.3" width="1.3" height="8.8" fill="#26a69a"/><rect x="39.5" y="157.8" width="8.4" height="12.5" fill="#26a69a"/><rect x="55.8" y="142.7" width="1.3" height="7.6" fill="#26a69a"/><rect x="55.8" y="158.3" width="1.3" height="19.6" fill="#26a69a"/><rect x="52.3" y="150.3" width="8.4" height="8.0" fill="#26a69a"/><rect x="68.6" y="149.0" width="1.3" height="2.0" fill="#ef5350"/><rect x="68.6" y="194.2" width="1.3" height="3.7" fill="#ef5350"/><rect x="65.1" y="151.0" width="8.4" height="43.2" fill="#ef5350"/><rect x="81.4" y="180.4" width="1.3" height="10.3" fill="#26a69a"/><rect x="81.4" y="194.2" width="1.3" height="5.8" fill="#26a69a"/><rect x="77.9" y="190.7" width="8.4" height="3.5" fill="#26a69a"/><rect x="94.2" y="172.3" width="1.3" height="10.6" fill="#26a69a"/><rect x="94.2" y="191.7" width="1.3" height="6.2" fill="#26a69a"/><rect x="90.7" y="182.9" width="8.4" height="8.8" fill="#26a69a"/><rect x="107.0" y="169.6" width="1.3" height="12.5" fill="#26a69a"/><rect x="107.0" y="184.1" width="1.3" height="2.5" fill="#26a69a"/><rect x="103.4" y="182.1" width="8.4" height="2.0" fill="#26a69a"/><rect x="119.8" y="175.4" width="1.3" height="8.7" fill="#26a69a"/><rect x="119.8" y="186.6" width="1.3" height="9.3" fill="#26a69a"/><rect x="116.2" y="184.1" width="8.4" height="2.5" fill="#26a69a"/><rect x="132.6" y="161.0" width="1.3" height="3.1" fill="#26a69a"/><rect x="129.0" y="164.1" width="8.4" height="20.8" fill="#26a69a"/><rect x="145.4" y="161.6" width="1.3" height="3.2" fill="#ef5350"/><rect x="141.8" y="164.8" width="8.4" height="16.8" fill="#ef5350"/><rect x="158.2" y="168.6" width="1.3" height="12.5" fill="#ef5350"/><rect x="158.2" y="182.4" width="1.3" height="6.8" fill="#ef5350"/><rect x="154.6" y="181.1" width="8.4" height="1.8" fill="#ef5350"/><rect x="171.0" y="177.9" width="1.3" height="3.7" fill="#ef5350"/><rect x="167.4" y="181.6" width="8.4" height="100.4" fill="#ef5350"/><rect x="183.8" y="245.6" width="1.3" height="6.5" fill="#26a69a"/><rect x="183.8" y="282.0" width="1.3" height="4.3" fill="#26a69a"/><rect x="180.2" y="252.1" width="8.4" height="29.9" fill="#26a69a"/><rect x="196.5" y="242.5" width="1.3" height="9.8" fill="#ef5350"/><rect x="196.5" y="259.8" width="1.3" height="5.8" fill="#ef5350"/><rect x="193.0" y="252.3" width="8.4" height="7.5" fill="#ef5350"/><rect x="205.8" y="259.8" width="8.4" height="44.2" fill="#ef5350"/><rect x="222.1" y="287.7" width="1.3" height="5.5" fill="#26a69a"/><rect x="222.1" y="305.0" width="1.3" height="2.0" fill="#26a69a"/><rect x="218.6" y="293.2" width="8.4" height="11.8" fill="#26a69a"/><rect x="234.9" y="236.8" width="1.3" height="24.6" fill="#26a69a"/><rect x="234.9" y="293.2" width="1.3" height="22.1" fill="#26a69a"/><rect x="231.4" y="261.4" width="8.4" height="31.8" fill="#26a69a"/><rect x="247.7" y="219.2" width="1.3" height="8.0" fill="#26a69a"/><rect x="247.7" y="260.9" width="1.3" height="4.0" fill="#26a69a"/><rect x="244.2" y="227.2" width="8.4" height="33.7" fill="#26a69a"/><rect x="260.5" y="215.4" width="1.3" height="11.3" fill="#26a69a"/><rect x="260.5" y="228.0" width="1.3" height="15.0" fill="#26a69a"/><rect x="257.0" y="226.7" width="8.4" height="1.8" fill="#26a69a"/><rect x="273.3" y="221.7" width="1.3" height="4.5" fill="#ef5350"/><rect x="273.3" y="263.6" width="1.3" height="3.3" fill="#ef5350"/><rect x="269.8" y="226.2" width="8.4" height="37.4" fill="#ef5350"/><rect x="286.1" y="237.5" width="1.3" height="19.8" fill="#26a69a"/><rect x="286.1" y="263.6" width="1.3" height="3.8" fill="#26a69a"/><rect x="282.5" y="257.3" width="8.4" height="6.3" fill="#26a69a"/><rect x="298.9" y="223.0" width="1.3" height="4.2" fill="#26a69a"/><rect x="298.9" y="258.1" width="1.3" height="1.8" fill="#26a69a"/><rect x="295.3" y="227.2" width="8.4" height="30.9" fill="#26a69a"/><rect x="311.7" y="135.9" width="1.3" height="26.1" fill="#26a69a"/><rect x="311.7" y="227.5" width="1.3" height="6.8" fill="#26a69a"/><rect x="308.1" y="162.0" width="8.4" height="65.5" fill="#26a69a"/><rect x="324.5" y="119.3" width="1.3" height="5.0" fill="#26a69a"/><rect x="324.5" y="164.0" width="1.3" height="34.4" fill="#26a69a"/><rect x="320.9" y="124.3" width="8.4" height="39.7" fill="#26a69a"/><rect x="337.3" y="124.3" width="1.3" height="0.8" fill="#ef5350"/><rect x="337.3" y="267.4" width="1.3" height="11.3" fill="#ef5350"/><rect x="333.7" y="125.1" width="8.4" height="142.3" fill="#ef5350"/><rect x="350.1" y="243.5" width="1.3" height="23.4" fill="#ef5350"/><rect x="350.1" y="297.5" width="1.3" height="36.6" fill="#ef5350"/><rect x="346.5" y="266.9" width="8.4" height="30.6" fill="#ef5350"/><rect x="362.9" y="262.4" width="1.3" height="10.7" fill="#26a69a"/><rect x="359.3" y="273.1" width="8.4" height="24.4" fill="#26a69a"/><rect x="375.6" y="261.9" width="1.3" height="11.2" fill="#ef5350"/><rect x="375.6" y="297.5" width="1.3" height="4.5" fill="#ef5350"/><rect x="372.1" y="273.1" width="8.4" height="24.4" fill="#ef5350"/><rect x="388.4" y="292.1" width="1.3" height="4.3" fill="#ef5350"/><rect x="388.4" y="315.7" width="1.3" height="22.8" fill="#ef5350"/><rect x="384.9" y="296.4" width="8.4" height="19.3" fill="#ef5350"/><rect x="401.2" y="312.2" width="1.3" height="3.5" fill="#ef5350"/><rect x="401.2" y="357.4" width="1.3" height="12.3" fill="#ef5350"/><rect x="397.7" y="315.7" width="8.4" height="41.7" fill="#ef5350"/><rect x="414.0" y="349.8" width="1.3" height="5.6" fill="#ef5350"/><rect x="414.0" y="356.6" width="1.3" height="22.6" fill="#ef5350"/><rect x="410.5" y="355.4" width="8.4" height="1.8" fill="#ef5350"/><rect x="426.8" y="344.8" width="1.3" height="5.0" fill="#26a69a"/><rect x="423.3" y="349.8" width="8.4" height="8.1" fill="#26a69a"/><rect x="439.6" y="342.8" width="1.3" height="5.0" fill="#ef5350"/><rect x="439.6" y="378.4" width="1.3" height="3.3" fill="#ef5350"/><rect x="436.1" y="347.8" width="8.4" height="30.6" fill="#ef5350"/><rect x="452.4" y="374.2" width="1.3" height="3.8" fill="#ef5350"/><rect x="452.4" y="390.5" width="1.3" height="5.0" fill="#ef5350"/><rect x="448.9" y="378.0" width="8.4" height="12.5" fill="#ef5350"/><rect x="465.2" y="376.7" width="1.3" height="13.3" fill="#ef5350"/><rect x="465.2" y="401.3" width="1.3" height="3.7" fill="#ef5350"/><rect x="461.6" y="390.0" width="8.4" height="11.3" fill="#ef5350"/><rect x="478.0" y="392.2" width="1.3" height="7.8" fill="#ef5350"/><rect x="478.0" y="411.8" width="1.3" height="5.8" fill="#ef5350"/><rect x="474.4" y="400.0" width="8.4" height="11.8" fill="#ef5350"/><rect x="490.8" y="409.8" width="1.3" height="1.5" fill="#ef5350"/><rect x="490.8" y="433.1" width="1.3" height="34.4" fill="#ef5350"/><rect x="487.2" y="411.3" width="8.4" height="21.8" fill="#ef5350"/><rect x="500.0" y="397.5" width="8.4" height="35.6" fill="#26a69a"/><rect x="516.4" y="372.9" width="1.3" height="21.9" fill="#26a69a"/><rect x="516.4" y="398.0" width="1.3" height="6.8" fill="#26a69a"/><rect x="512.8" y="394.8" width="8.4" height="3.2" fill="#26a69a"/><rect x="529.2" y="365.9" width="1.3" height="8.8" fill="#26a69a"/><rect x="529.2" y="394.8" width="1.3" height="14.5" fill="#26a69a"/><rect x="525.6" y="374.7" width="8.4" height="20.1" fill="#26a69a"/><rect x="542.0" y="367.9" width="1.3" height="6.8" fill="#ef5350"/><rect x="542.0" y="387.2" width="1.3" height="5.8" fill="#ef5350"/><rect x="538.4" y="374.7" width="8.4" height="12.5" fill="#ef5350"/><rect x="554.7" y="325.7" width="1.3" height="1.6" fill="#26a69a"/><rect x="554.7" y="387.2" width="1.3" height="10.1" fill="#26a69a"/><rect x="551.2" y="327.3" width="8.4" height="59.9" fill="#26a69a"/><rect x="567.5" y="293.9" width="1.3" height="20.8" fill="#26a69a"/><rect x="564.0" y="314.7" width="8.4" height="13.1" fill="#26a69a"/><rect x="580.3" y="282.6" width="1.3" height="5.8" fill="#26a69a"/><rect x="580.3" y="315.7" width="1.3" height="12.6" fill="#26a69a"/><rect x="576.8" y="288.4" width="8.4" height="27.3" fill="#26a69a"/><rect x="593.1" y="278.3" width="1.3" height="10.1" fill="#ef5350"/><rect x="593.1" y="315.7" width="1.3" height="2.5" fill="#ef5350"/><rect x="589.6" y="288.4" width="8.4" height="27.3" fill="#ef5350"/><rect x="605.9" y="298.9" width="1.3" height="16.3" fill="#ef5350"/><rect x="605.9" y="327.0" width="1.3" height="7.8" fill="#ef5350"/><rect x="602.4" y="315.2" width="8.4" height="11.8" fill="#ef5350"/><rect x="618.7" y="297.1" width="1.3" height="25.1" fill="#26a69a"/><rect x="618.7" y="327.0" width="1.3" height="11.3" fill="#26a69a"/><rect x="615.2" y="322.2" width="8.4" height="4.8" fill="#26a69a"/><rect x="631.5" y="295.9" width="1.3" height="11.0" fill="#26a69a"/><rect x="631.5" y="322.7" width="1.3" height="14.3" fill="#26a69a"/><rect x="628.0" y="306.9" width="8.4" height="15.8" fill="#26a69a"/><rect x="644.3" y="307.2" width="1.3" height="0.5" fill="#ef5350"/><rect x="644.3" y="378.7" width="1.3" height="11.8" fill="#ef5350"/><rect x="640.7" y="307.7" width="8.4" height="71.0" fill="#ef5350"/><rect x="657.1" y="337.8" width="1.3" height="1.7" fill="#26a69a"/><rect x="657.1" y="378.7" width="1.3" height="16.3" fill="#26a69a"/><rect x="653.5" y="339.5" width="8.4" height="39.2" fill="#26a69a"/><rect x="669.9" y="313.5" width="1.3" height="5.5" fill="#26a69a"/><rect x="669.9" y="341.0" width="1.3" height="3.8" fill="#26a69a"/><rect x="666.3" y="319.0" width="8.4" height="22.0" fill="#26a69a"/><rect x="682.7" y="342.3" width="1.3" height="14.8" fill="#ef5350"/><rect x="679.1" y="319.0" width="8.4" height="23.3" fill="#ef5350"/><rect x="695.5" y="339.0" width="1.3" height="3.0" fill="#ef5350"/><rect x="695.5" y="376.7" width="1.3" height="8.0" fill="#ef5350"/><rect x="691.9" y="342.0" width="8.4" height="34.7" fill="#ef5350"/><rect x="708.3" y="358.6" width="1.3" height="3.0" fill="#26a69a"/><rect x="708.3" y="375.9" width="1.3" height="5.8" fill="#26a69a"/><rect x="704.7" y="361.6" width="8.4" height="14.3" fill="#26a69a"/><rect x="721.1" y="349.1" width="1.3" height="12.5" fill="#ef5350"/><rect x="721.1" y="363.6" width="1.3" height="3.0" fill="#ef5350"/><rect x="717.5" y="361.6" width="8.4" height="2.0" fill="#ef5350"/><rect x="733.9" y="354.6" width="1.3" height="3.8" fill="#ef5350"/><rect x="733.9" y="365.4" width="1.3" height="5.5" fill="#ef5350"/><rect x="730.3" y="358.4" width="8.4" height="7.0" fill="#ef5350"/><rect x="746.6" y="340.3" width="1.3" height="9.3" fill="#26a69a"/><rect x="746.6" y="362.1" width="1.3" height="5.8" fill="#26a69a"/><rect x="743.1" y="349.6" width="8.4" height="12.5" fill="#26a69a"/><rect x="759.4" y="345.3" width="1.3" height="3.8" fill="#ef5350"/><rect x="759.4" y="356.6" width="1.3" height="11.3" fill="#ef5350"/><rect x="755.9" y="349.1" width="8.4" height="7.5" fill="#ef5350"/><rect x="772.2" y="351.3" width="1.3" height="4.5" fill="#ef5350"/><rect x="772.2" y="450.7" width="1.3" height="22.3" fill="#ef5350"/><rect x="768.7" y="355.8" width="8.4" height="94.9" fill="#ef5350"/><rect x="785.0" y="424.6" width="1.3" height="9.5" fill="#26a69a"/><rect x="785.0" y="451.9" width="1.3" height="4.0" fill="#26a69a"/><rect x="781.5" y="434.1" width="8.4" height="17.8" fill="#26a69a"/><rect x="797.8" y="427.8" width="1.3" height="6.3" fill="#ef5350"/><rect x="797.8" y="437.1" width="1.3" height="10.8" fill="#ef5350"/><rect x="794.3" y="434.1" width="8.4" height="3.0" fill="#ef5350"/><rect x="810.6" y="402.7" width="1.3" height="30.6" fill="#26a69a"/><rect x="810.6" y="437.1" width="1.3" height="5.0" fill="#26a69a"/><rect x="807.1" y="433.3" width="8.4" height="3.8" fill="#26a69a"/><rect x="823.4" y="393.2" width="1.3" height="37.6" fill="#26a69a"/><rect x="819.9" y="430.8" width="8.4" height="3.3" fill="#26a69a"/><rect x="836.2" y="410.8" width="1.3" height="3.2" fill="#26a69a"/><rect x="832.6" y="414.0" width="8.4" height="18.8" fill="#26a69a"/><rect x="849.0" y="377.1" width="1.3" height="13.8" fill="#26a69a"/><rect x="849.0" y="414.5" width="1.3" height="8.8" fill="#26a69a"/><rect x="845.4" y="390.9" width="8.4" height="23.6" fill="#26a69a"/><rect x="861.8" y="389.4" width="1.3" height="1.5" fill="#ef5350"/><rect x="861.8" y="393.5" width="1.3" height="33.1" fill="#ef5350"/><rect x="858.2" y="390.9" width="8.4" height="2.6" fill="#ef5350"/><rect x="874.6" y="385.9" width="1.3" height="6.8" fill="#ef5350"/><rect x="874.6" y="402.7" width="1.3" height="15.6" fill="#ef5350"/><rect x="871.0" y="392.7" width="8.4" height="10.0" fill="#ef5350"/><rect x="887.4" y="397.7" width="1.3" height="4.5" fill="#ef5350"/><rect x="887.4" y="439.6" width="1.3" height="13.8" fill="#ef5350"/><rect x="883.8" y="402.2" width="8.4" height="37.4" fill="#ef5350"/><rect x="900.2" y="427.8" width="1.3" height="8.1" fill="#26a69a"/><rect x="900.2" y="439.1" width="1.3" height="10.1" fill="#26a69a"/><rect x="896.6" y="435.9" width="8.4" height="3.2" fill="#26a69a"/><rect x="913.0" y="417.3" width="1.3" height="3.0" fill="#26a69a"/><rect x="913.0" y="436.1" width="1.3" height="31.9" fill="#26a69a"/><rect x="909.4" y="420.3" width="8.4" height="15.8" fill="#26a69a"/><rect x="925.7" y="419.5" width="1.3" height="0.8" fill="#ef5350"/><rect x="925.7" y="513.7" width="1.3" height="8.7" fill="#ef5350"/><rect x="922.2" y="420.3" width="8.4" height="93.4" fill="#ef5350"/><rect x="938.5" y="514.4" width="1.3" height="12.6" fill="#26a69a"/><rect x="935.0" y="449.7" width="8.4" height="64.7" fill="#26a69a"/><rect x="951.3" y="442.9" width="1.3" height="6.8" fill="#ef5350"/><rect x="951.3" y="487.6" width="1.3" height="18.5" fill="#ef5350"/><rect x="947.8" y="449.7" width="8.4" height="37.9" fill="#ef5350"/><rect x="964.1" y="467.6" width="1.3" height="19.6" fill="#ef5350"/><rect x="964.1" y="493.2" width="1.3" height="7.8" fill="#ef5350"/><rect x="960.6" y="487.2" width="8.4" height="6.0" fill="#ef5350"/><rect x="976.9" y="487.2" width="1.3" height="5.5" fill="#ef5350"/><rect x="976.9" y="523.6" width="1.3" height="16.0" fill="#ef5350"/><rect x="973.4" y="492.7" width="8.4" height="30.9" fill="#ef5350"/><rect x="989.7" y="510.3" width="1.3" height="12.5" fill="#ef5350"/><rect x="989.7" y="545.4" width="1.3" height="6.8" fill="#ef5350"/><rect x="986.2" y="522.8" width="8.4" height="22.6" fill="#ef5350"/><rect x="1002.5" y="535.4" width="1.3" height="8.0" fill="#26a69a"/><rect x="1002.5" y="545.4" width="1.3" height="10.0" fill="#26a69a"/><rect x="999.0" y="543.4" width="8.4" height="2.0" fill="#26a69a"/><rect x="1015.3" y="529.6" width="1.3" height="12.8" fill="#ef5350"/><rect x="1015.3" y="549.2" width="1.3" height="8.7" fill="#ef5350"/><rect x="1011.7" y="542.4" width="8.4" height="6.8" fill="#ef5350"/><rect x="1028.1" y="534.9" width="1.3" height="7.5" fill="#ef5350"/><rect x="1028.1" y="568.0" width="1.3" height="2.5" fill="#ef5350"/><rect x="1024.5" y="542.4" width="8.4" height="25.6" fill="#ef5350"/><rect x="1040.9" y="502.2" width="1.3" height="1.3" fill="#26a69a"/><rect x="1040.9" y="568.0" width="1.3" height="3.7" fill="#26a69a"/><rect x="1037.3" y="503.5" width="8.4" height="64.5" fill="#26a69a"/><rect x="1053.7" y="481.4" width="1.3" height="22.1" fill="#ef5350"/><rect x="1053.7" y="508.3" width="1.3" height="2.5" fill="#ef5350"/><rect x="1050.1" y="503.5" width="8.4" height="4.8" fill="#ef5350"/><rect x="1066.5" y="504.0" width="1.3" height="2.5" fill="#ef5350"/><rect x="1066.5" y="555.4" width="1.3" height="41.4" fill="#ef5350"/><rect x="1062.9" y="506.5" width="8.4" height="48.9" fill="#ef5350"/><rect x="1079.3" y="539.1" width="1.3" height="9.3" fill="#26a69a"/><rect x="1079.3" y="555.4" width="1.3" height="8.3" fill="#26a69a"/><rect x="1075.7" y="548.4" width="8.4" height="7.0" fill="#26a69a"/><rect x="1092.1" y="537.9" width="1.3" height="9.3" fill="#26a69a"/><rect x="1092.1" y="548.4" width="1.3" height="3.3" fill="#26a69a"/><rect x="1088.5" y="547.2" width="8.4" height="1.8" fill="#26a69a"/><rect x="1104.8" y="537.9" width="1.3" height="9.5" fill="#ef5350"/><rect x="1104.8" y="556.7" width="1.3" height="2.5" fill="#ef5350"/><rect x="1101.3" y="547.4" width="8.4" height="9.3" fill="#ef5350"/><rect x="1117.6" y="554.9" width="1.3" height="0.5" fill="#ef5350"/><rect x="1117.6" y="592.6" width="1.3" height="17.5" fill="#ef5350"/><rect x="1114.1" y="555.4" width="8.4" height="37.2" fill="#ef5350"/><rect x="1130.4" y="569.7" width="1.3" height="12.8" fill="#26a69a"/><rect x="1130.4" y="593.1" width="1.3" height="6.2" fill="#26a69a"/><rect x="1126.9" y="582.5" width="8.4" height="10.6" fill="#26a69a"/><rect x="1143.2" y="575.9" width="1.3" height="6.3" fill="#ef5350"/><rect x="1143.2" y="593.5" width="1.3" height="15.8" fill="#ef5350"/><rect x="1139.7" y="582.2" width="8.4" height="11.3" fill="#ef5350"/><rect x="1156.0" y="587.5" width="1.3" height="4.7" fill="#ef5350"/><rect x="1156.0" y="608.0" width="1.3" height="24.4" fill="#ef5350"/><rect x="1152.5" y="592.2" width="8.4" height="15.8" fill="#ef5350"/><rect x="1168.8" y="606.8" width="1.3" height="0.5" fill="#ef5350"/><rect x="1168.8" y="624.9" width="1.3" height="8.3" fill="#ef5350"/><rect x="1165.3" y="607.3" width="8.4" height="17.6" fill="#ef5350"/><rect x="1181.6" y="589.2" width="1.3" height="1.3" fill="#26a69a"/><rect x="1181.6" y="624.9" width="1.3" height="4.5" fill="#26a69a"/><rect x="1178.1" y="590.5" width="8.4" height="34.4" fill="#26a69a"/><rect x="1194.4" y="597.5" width="1.3" height="9.3" fill="#ef5350"/><rect x="1190.8" y="590.0" width="8.4" height="7.5" fill="#ef5350"/><rect x="1207.2" y="570.9" width="1.3" height="3.8" fill="#26a69a"/><rect x="1207.2" y="597.5" width="1.3" height="6.8" fill="#26a69a"/><rect x="1203.6" y="574.7" width="8.4" height="22.8" fill="#26a69a"/><rect x="1220.0" y="551.6" width="1.3" height="13.3" fill="#26a69a"/><rect x="1220.0" y="575.9" width="1.3" height="15.8" fill="#26a69a"/><rect x="1216.4" y="564.9" width="8.4" height="11.0" fill="#26a69a"/><rect x="1232.8" y="549.8" width="1.3" height="15.6" fill="#ef5350"/><rect x="1232.8" y="594.3" width="1.3" height="9.2" fill="#ef5350"/><rect x="1229.2" y="565.4" width="8.4" height="28.9" fill="#ef5350"/><rect x="1245.6" y="581.0" width="1.3" height="13.3" fill="#ef5350"/><rect x="1242.0" y="594.3" width="8.4" height="11.7" fill="#ef5350"/><rect x="1258.4" y="605.0" width="1.3" height="1.0" fill="#ef5350"/><rect x="1258.4" y="608.0" width="1.3" height="15.1" fill="#ef5350"/><rect x="1254.8" y="606.0" width="8.4" height="2.0" fill="#ef5350"/><rect x="1271.2" y="595.0" width="1.3" height="13.0" fill="#ef5350"/><rect x="1267.6" y="608.0" width="8.4" height="5.6" fill="#ef5350"/><rect x="1283.9" y="593.5" width="1.3" height="4.0" fill="#26a69a"/><rect x="1283.9" y="612.3" width="1.3" height="1.5" fill="#26a69a"/><rect x="1280.4" y="597.5" width="8.4" height="14.8" fill="#26a69a"/><rect x="1296.7" y="590.5" width="1.3" height="5.8" fill="#ef5350"/><rect x="1296.7" y="600.0" width="1.3" height="4.3" fill="#ef5350"/><rect x="1293.2" y="596.3" width="8.4" height="3.7" fill="#ef5350"/><rect x="1309.5" y="589.2" width="1.3" height="10.6" fill="#ef5350"/><rect x="1306.0" y="599.8" width="8.4" height="4.5" fill="#ef5350"/><rect x="1322.3" y="575.9" width="1.3" height="7.6" fill="#26a69a"/><rect x="1322.3" y="598.0" width="1.3" height="3.0" fill="#26a69a"/><rect x="1318.8" y="583.5" width="8.4" height="14.5" fill="#26a69a"/><rect x="1335.1" y="581.0" width="1.3" height="2.7" fill="#ef5350"/><rect x="1335.1" y="589.7" width="1.3" height="5.1" fill="#ef5350"/><rect x="1331.6" y="583.7" width="8.4" height="6.0" fill="#ef5350"/><rect x="1347.9" y="575.4" width="1.3" height="2.0" fill="#26a69a"/><rect x="1347.9" y="589.7" width="1.3" height="3.8" fill="#26a69a"/><rect x="1344.4" y="577.4" width="8.4" height="12.3" fill="#26a69a"/><rect x="1360.7" y="575.4" width="1.3" height="2.0" fill="#ef5350"/><rect x="1360.7" y="586.2" width="1.3" height="11.1" fill="#ef5350"/><rect x="1357.2" y="577.4" width="8.4" height="8.8" fill="#ef5350"/><rect x="1373.5" y="565.4" width="1.3" height="3.3" fill="#26a69a"/><rect x="1373.5" y="586.2" width="1.3" height="20.6" fill="#26a69a"/><rect x="1370.0" y="568.7" width="8.4" height="17.5" fill="#26a69a"/><rect x="1386.3" y="555.4" width="1.3" height="12.5" fill="#26a69a"/><rect x="1386.3" y="569.7" width="1.3" height="10.8" fill="#26a69a"/><rect x="1382.7" y="567.9" width="8.4" height="1.8" fill="#26a69a"/><rect x="1399.1" y="549.6" width="1.3" height="18.3" fill="#ef5350"/><rect x="1399.1" y="570.9" width="1.3" height="2.5" fill="#ef5350"/><rect x="1395.5" y="567.9" width="8.4" height="3.0" fill="#ef5350"/><rect x="1411.9" y="562.4" width="1.3" height="8.0" fill="#ef5350"/><rect x="1408.3" y="570.4" width="8.4" height="13.3" fill="#ef5350"/><rect x="1424.7" y="535.3" width="1.3" height="5.7" fill="#26a69a"/><rect x="1424.7" y="583.0" width="1.3" height="0.5" fill="#26a69a"/><rect x="1421.1" y="541.0" width="8.4" height="42.0" fill="#26a69a"/><rect x="1437.5" y="503.4" width="1.3" height="37.6" fill="#ef5350"/><rect x="1433.9" y="541.0" width="8.4" height="4.8" fill="#ef5350"/><rect x="1450.3" y="505.9" width="1.3" height="11.8" fill="#26a69a"/><rect x="1450.3" y="545.3" width="1.3" height="8.3" fill="#26a69a"/><rect x="1446.7" y="517.7" width="8.4" height="27.6" fill="#26a69a"/><rect x="1463.1" y="498.4" width="1.3" height="19.8" fill="#ef5350"/><rect x="1463.1" y="520.2" width="1.3" height="12.6" fill="#ef5350"/><rect x="1459.5" y="518.2" width="8.4" height="2.0" fill="#ef5350"/><rect x="1475.8" y="495.6" width="1.3" height="25.1" fill="#ef5350"/><rect x="1475.8" y="528.3" width="1.3" height="8.2" fill="#ef5350"/><rect x="1472.3" y="520.7" width="8.4" height="7.6" fill="#ef5350"/><rect x="1488.6" y="517.2" width="1.3" height="10.6" fill="#ef5350"/><rect x="1488.6" y="537.3" width="1.3" height="8.5" fill="#ef5350"/><rect x="1485.1" y="527.8" width="8.4" height="9.5" fill="#ef5350"/><rect x="1501.4" y="531.5" width="1.3" height="5.5" fill="#ef5350"/><rect x="1501.4" y="556.1" width="1.3" height="2.3" fill="#ef5350"/><rect x="1497.9" y="537.0" width="8.4" height="19.1" fill="#ef5350"/><rect x="1514.2" y="541.0" width="1.3" height="9.8" fill="#26a69a"/><rect x="1514.2" y="556.1" width="1.3" height="8.8" fill="#26a69a"/><rect x="1510.7" y="550.8" width="8.4" height="5.3" fill="#26a69a"/><rect x="1527.0" y="528.4" width="1.3" height="16.8" fill="#26a69a"/><rect x="1527.0" y="551.0" width="1.3" height="21.3" fill="#26a69a"/><rect x="1523.5" y="545.2" width="8.4" height="5.8" fill="#26a69a"/><rect x="1539.8" y="540.2" width="1.3" height="5.8" fill="#ef5350"/><rect x="1539.8" y="581.6" width="1.3" height="3.3" fill="#ef5350"/><rect x="1536.3" y="546.0" width="8.4" height="35.6" fill="#ef5350"/><rect x="1552.6" y="576.6" width="1.3" height="4.5" fill="#ef5350"/><rect x="1552.6" y="606.7" width="1.3" height="7.6" fill="#ef5350"/><rect x="1549.1" y="581.1" width="8.4" height="25.6" fill="#ef5350"/><rect x="1565.4" y="594.2" width="1.3" height="1.2" fill="#26a69a"/><rect x="1565.4" y="606.7" width="1.3" height="24.6" fill="#26a69a"/><rect x="1561.8" y="595.4" width="8.4" height="11.3" fill="#26a69a"/><rect x="1578.2" y="557.8" width="1.3" height="14.3" fill="#26a69a"/><rect x="1578.2" y="596.2" width="1.3" height="7.5" fill="#26a69a"/><rect x="1574.6" y="572.1" width="8.4" height="24.1" fill="#26a69a"/><rect x="1591.0" y="570.3" width="1.3" height="1.8" fill="#ef5350"/><rect x="1591.0" y="585.4" width="1.3" height="11.8" fill="#ef5350"/><rect x="1587.4" y="572.1" width="8.4" height="13.3" fill="#ef5350"/><rect x="1603.8" y="579.1" width="1.3" height="4.5" fill="#ef5350"/><rect x="1603.8" y="585.4" width="1.3" height="6.3" fill="#ef5350"/><rect x="1600.2" y="583.6" width="8.4" height="1.8" fill="#ef5350"/><rect x="1616.6" y="560.3" width="1.3" height="24.3" fill="#ef5350"/><rect x="1613.0" y="584.6" width="8.4" height="1.8" fill="#ef5350"/><rect x="1629.4" y="560.8" width="1.3" height="2.8" fill="#26a69a"/><rect x="1629.4" y="580.9" width="1.3" height="4.0" fill="#26a69a"/><rect x="1625.8" y="563.6" width="8.4" height="17.3" fill="#26a69a"/><rect x="1642.2" y="677.5" width="1.3" height="49.7" fill="#ef5350"/><rect x="1638.6" y="561.6" width="8.4" height="115.9" fill="#ef5350"/><rect x="1654.9" y="659.9" width="1.3" height="5.1" fill="#26a69a"/><rect x="1654.9" y="677.5" width="1.3" height="13.3" fill="#26a69a"/><rect x="1651.4" y="665.0" width="8.4" height="12.5" fill="#26a69a"/><rect x="1667.7" y="628.0" width="1.3" height="24.6" fill="#26a69a"/><rect x="1667.7" y="665.7" width="1.3" height="5.8" fill="#26a69a"/><rect x="1664.2" y="652.6" width="8.4" height="13.1" fill="#26a69a"/><rect x="1680.5" y="616.1" width="1.3" height="14.9" fill="#26a69a"/><rect x="1680.5" y="653.5" width="1.3" height="31.5" fill="#26a69a"/><rect x="1677.0" y="631.0" width="8.4" height="22.5" fill="#26a69a"/><rect x="1693.3" y="583.2" width="1.3" height="18.8" fill="#26a69a"/><rect x="1689.8" y="602.0" width="8.4" height="29.0" fill="#26a69a"/><rect x="1706.1" y="589.4" width="1.3" height="2.8" fill="#26a69a"/><rect x="1706.1" y="602.9" width="1.3" height="16.8" fill="#26a69a"/><rect x="1702.6" y="592.2" width="8.4" height="10.7" fill="#26a69a"/><rect x="1718.9" y="571.1" width="1.3" height="9.0" fill="#26a69a"/><rect x="1718.9" y="592.7" width="1.3" height="9.3" fill="#26a69a"/><rect x="1715.4" y="580.1" width="8.4" height="12.6" fill="#26a69a"/><rect x="1731.7" y="545.8" width="1.3" height="0.8" fill="#26a69a"/><rect x="1731.7" y="581.5" width="1.3" height="6.5" fill="#26a69a"/><rect x="1728.2" y="546.6" width="8.4" height="34.9" fill="#26a69a"/><rect x="1744.5" y="536.8" width="1.3" height="6.7" fill="#26a69a"/><rect x="1744.5" y="548.0" width="1.3" height="23.1" fill="#26a69a"/><rect x="1740.9" y="543.5" width="8.4" height="4.5" fill="#26a69a"/><rect x="1757.3" y="526.6" width="1.3" height="16.9" fill="#ef5350"/><rect x="1757.3" y="557.0" width="1.3" height="5.6" fill="#ef5350"/><rect x="1753.7" y="543.5" width="8.4" height="13.5" fill="#ef5350"/><rect x="1770.1" y="516.8" width="1.3" height="11.2" fill="#26a69a"/><rect x="1770.1" y="557.9" width="1.3" height="0.5" fill="#26a69a"/><rect x="1766.5" y="528.0" width="8.4" height="29.9" fill="#26a69a"/><rect x="1782.9" y="508.4" width="1.3" height="10.6" fill="#26a69a"/><rect x="1782.9" y="528.3" width="1.3" height="6.8" fill="#26a69a"/><rect x="1779.3" y="519.0" width="8.4" height="9.3" fill="#26a69a"/><rect x="1795.7" y="508.4" width="1.3" height="9.8" fill="#ef5350"/><rect x="1795.7" y="533.1" width="1.3" height="0.9" fill="#ef5350"/><rect x="1792.1" y="518.2" width="8.4" height="14.9" fill="#ef5350"/><rect x="1808.5" y="508.4" width="1.3" height="23.3" fill="#ef5350"/><rect x="1808.5" y="533.1" width="1.3" height="5.6" fill="#ef5350"/><rect x="1804.9" y="531.7" width="8.4" height="1.8" fill="#ef5350"/><rect x="1821.3" y="511.2" width="1.3" height="5.6" fill="#26a69a"/><rect x="1821.3" y="533.7" width="1.3" height="3.6" fill="#26a69a"/><rect x="1817.7" y="516.8" width="8.4" height="16.9" fill="#26a69a"/><rect x="1834.0" y="484.5" width="1.3" height="32.3" fill="#ef5350"/><rect x="1834.0" y="518.5" width="1.3" height="2.0" fill="#ef5350"/><rect x="1830.5" y="516.8" width="8.4" height="1.8" fill="#ef5350"/><rect x="1846.8" y="483.9" width="1.3" height="14.6" fill="#26a69a"/><rect x="1846.8" y="519.6" width="1.3" height="0.9" fill="#26a69a"/><rect x="1843.3" y="498.5" width="8.4" height="21.1" fill="#26a69a"/><rect x="1859.6" y="481.1" width="1.3" height="18.8" fill="#ef5350"/><rect x="1859.6" y="510.6" width="1.3" height="5.6" fill="#ef5350"/><rect x="1856.1" y="499.9" width="8.4" height="10.7" fill="#ef5350"/></g>
<g clip-path="url(#cs)">
<path d="M5 837.5H1867M5 870.3H1867M5 902.5H1867" stroke="#707070" stroke-width="1" stroke-dasharray="2.4 2.35"/>
<g fill="#2ae82a"><rect x="4.1" y="823.5" width="2.4" height="65.5"/><rect x="16.9" y="804.0" width="2.4" height="65.8"/><rect x="29.7" y="783.2" width="2.4" height="86.6"/><rect x="42.5" y="824.8" width="2.4" height="45.0"/><rect x="55.3" y="835.0" width="2.4" height="34.8"/><rect x="68.1" y="851.0" width="2.4" height="42.0"/><rect x="80.9" y="869.8" width="2.4" height="32.6"/><rect x="93.7" y="867.2" width="2.4" height="33.4"/><rect x="106.4" y="859.0" width="2.4" height="25.0"/><rect x="119.2" y="859.0" width="2.4" height="31.4"/><rect x="132.0" y="828.2" width="2.4" height="46.8"/><rect x="144.8" y="837.2" width="2.4" height="39.5"/><rect x="157.6" y="853.1" width="2.4" height="39.9"/><rect x="170.4" y="858.2" width="2.4" height="116.2"/><rect x="183.2" y="869.8" width="2.4" height="82.2"/><rect x="196.0" y="869.8" width="2.4" height="45.5"/><rect x="208.8" y="869.8" width="2.4" height="55.8"/><rect x="221.6" y="869.8" width="2.4" height="37.2"/><rect x="234.4" y="831.2" width="2.4" height="79.0"/><rect x="247.2" y="819.2" width="2.4" height="50.6"/><rect x="260.0" y="822.2" width="2.4" height="47.6"/><rect x="272.8" y="835.6" width="2.4" height="42.7"/><rect x="285.5" y="859.5" width="2.4" height="27.5"/><rect x="298.3" y="848.5" width="2.4" height="41.1"/><rect x="311.1" y="787.5" width="2.4" height="85.6"/><rect x="323.9" y="805.5" width="2.4" height="64.3"/><rect x="336.7" y="826.1" width="2.4" height="81.0"/><rect x="349.5" y="869.8" width="2.4" height="54.0"/><rect x="362.3" y="869.8" width="2.4" height="34.7"/><rect x="375.1" y="869.8" width="2.4" height="32.2"/><rect x="387.9" y="869.8" width="2.4" height="37.3"/><rect x="400.7" y="869.8" width="2.4" height="52.7"/><rect x="413.5" y="869.8" width="2.4" height="62.5"/><rect x="426.3" y="869.8" width="2.4" height="30.8"/><rect x="439.1" y="864.7" width="2.4" height="44.2"/><rect x="451.9" y="869.8" width="2.4" height="45.5"/><rect x="464.6" y="869.8" width="2.4" height="54.5"/><rect x="477.4" y="869.8" width="2.4" height="63.0"/><rect x="490.2" y="869.8" width="2.4" height="85.6"/><rect x="503.0" y="858.2" width="2.4" height="44.2"/><rect x="515.8" y="830.0" width="2.4" height="39.8"/><rect x="528.6" y="825.6" width="2.4" height="47.5"/><rect x="541.4" y="833.8" width="2.4" height="36.0"/><rect x="554.2" y="808.1" width="2.4" height="72.0"/><rect x="567.0" y="804.3" width="2.4" height="65.5"/><rect x="579.8" y="806.8" width="2.4" height="63.0"/><rect x="592.6" y="819.2" width="2.4" height="50.6"/><rect x="605.4" y="851.8" width="2.4" height="33.4"/><rect x="618.2" y="857.0" width="2.4" height="42.9"/><rect x="631.0" y="855.2" width="2.4" height="40.3"/><rect x="643.7" y="859.0" width="2.4" height="72.5"/><rect x="656.5" y="869.8" width="2.4" height="50.1"/><rect x="669.3" y="851.8" width="2.4" height="25.7"/><rect x="682.1" y="852.3" width="2.4" height="31.7"/><rect x="694.9" y="861.6" width="2.4" height="37.2"/><rect x="707.7" y="869.8" width="2.4" height="30.8"/><rect x="720.5" y="867.2" width="2.4" height="23.2"/><rect x="733.3" y="864.7" width="2.4" height="23.9"/><rect x="746.1" y="836.4" width="2.4" height="43.7"/><rect x="758.9" y="841.5" width="2.4" height="42.5"/><rect x="771.7" y="851.8" width="2.4" height="123.4"/><rect x="784.5" y="869.8" width="2.4" height="68.2"/><rect x="797.3" y="869.8" width="2.4" height="44.5"/><rect x="810.1" y="860.8" width="2.4" height="34.2"/><rect x="822.9" y="844.6" width="2.4" height="32.9"/><rect x="835.6" y="846.7" width="2.4" height="32.1"/><rect x="848.4" y="817.6" width="2.4" height="57.3"/><rect x="861.2" y="842.8" width="2.4" height="41.1"/><rect x="874.0" y="843.6" width="2.4" height="37.3"/><rect x="886.8" y="855.2" width="2.4" height="60.1"/><rect x="899.6" y="869.8" width="2.4" height="37.3"/><rect x="912.4" y="863.4" width="2.4" height="53.9"/><rect x="925.2" y="856.2" width="2.4" height="83.8"/><rect x="938.0" y="867.2" width="2.4" height="51.9"/><rect x="950.8" y="857.0" width="2.4" height="41.8"/><rect x="963.6" y="867.2" width="2.4" height="21.1"/><rect x="976.4" y="869.8" width="2.4" height="33.4"/><rect x="989.2" y="869.8" width="2.4" height="41.9"/><rect x="1002.0" y="869.8" width="2.4" height="44.5"/><rect x="1014.7" y="869.8" width="2.4" height="40.4"/><rect x="1027.5" y="866.5" width="2.4" height="42.4"/><rect x="1040.3" y="828.2" width="2.4" height="74.2"/><rect x="1053.1" y="809.4" width="2.4" height="60.4"/><rect x="1065.9" y="844.1" width="2.4" height="75.8"/><rect x="1078.7" y="869.8" width="2.4" height="21.8"/><rect x="1091.5" y="869.8" width="2.4" height="14.1"/><rect x="1104.3" y="869.8" width="2.4" height="23.9"/><rect x="1117.1" y="868.5" width="2.4" height="56.6"/><rect x="1129.9" y="869.8" width="2.4" height="55.3"/><rect x="1142.7" y="869.8" width="2.4" height="54.0"/><rect x="1155.5" y="869.8" width="2.4" height="55.3"/><rect x="1168.3" y="869.8" width="2.4" height="39.8"/><rect x="1181.1" y="853.1" width="2.4" height="48.8"/><rect x="1193.8" y="849.2" width="2.4" height="21.9"/><rect x="1206.6" y="825.6" width="2.4" height="44.2"/><rect x="1219.4" y="809.4" width="2.4" height="60.4"/><rect x="1232.2" y="825.6" width="2.4" height="62.2"/><rect x="1245.0" y="864.7" width="2.4" height="30.3"/><rect x="1257.8" y="869.8" width="2.4" height="41.9"/><rect x="1270.6" y="869.8" width="2.4" height="30.1"/><rect x="1283.4" y="862.1" width="2.4" height="32.1"/><rect x="1296.2" y="844.1" width="2.4" height="29.0"/><rect x="1309.0" y="836.4" width="2.4" height="37.3"/><rect x="1321.8" y="821.7" width="2.4" height="53.8"/><rect x="1334.6" y="837.2" width="2.4" height="33.1"/><rect x="1347.4" y="833.0" width="2.4" height="42.7"/><rect x="1360.2" y="842.0" width="2.4" height="45.8"/><rect x="1373.0" y="834.6" width="2.4" height="69.9"/><rect x="1385.7" y="823.0" width="2.4" height="46.8"/><rect x="1398.5" y="825.6" width="2.4" height="44.2"/><rect x="1411.3" y="850.0" width="2.4" height="34.4"/><rect x="1424.1" y="824.8" width="2.4" height="64.3"/><rect x="1436.9" y="805.5" width="2.4" height="64.3"/><rect x="1449.7" y="821.0" width="2.4" height="53.2"/><rect x="1462.5" y="824.8" width="2.4" height="45.0"/><rect x="1475.3" y="837.2" width="2.4" height="40.8"/><rect x="1488.1" y="863.4" width="2.4" height="30.8"/><rect x="1500.9" y="869.8" width="2.4" height="34.7"/><rect x="1513.7" y="869.8" width="2.4" height="43.7"/><rect x="1526.5" y="857.0" width="2.4" height="55.2"/><rect x="1539.3" y="859.5" width="2.4" height="55.3"/><rect x="1552.1" y="869.8" width="2.4" height="62.5"/><rect x="1564.8" y="869.8" width="2.4" height="63.0"/><rect x="1577.6" y="848.0" width="2.4" height="45.4"/><rect x="1590.4" y="851.8" width="2.4" height="29.1"/><rect x="1603.2" y="853.1" width="2.4" height="16.7"/><rect x="1616.0" y="832.5" width="2.4" height="37.3"/><rect x="1628.8" y="842.3" width="2.4" height="36.0"/><rect x="1641.6" y="844.6" width="2.4" height="134.4"/><rect x="1654.4" y="869.8" width="2.4" height="63.5"/><rect x="1667.2" y="869.8" width="2.4" height="33.9"/><rect x="1680.0" y="856.2" width="2.4" height="42.4"/><rect x="1692.8" y="834.3" width="2.4" height="35.5"/><rect x="1705.6" y="824.3" width="2.4" height="45.5"/><rect x="1718.4" y="824.3" width="2.4" height="45.5"/><rect x="1731.2" y="816.3" width="2.4" height="53.5"/><rect x="1743.9" y="817.9" width="2.4" height="51.9"/><rect x="1756.7" y="816.3" width="2.4" height="53.5"/><rect x="1769.5" y="824.3" width="2.4" height="46.8"/><rect x="1782.3" y="828.7" width="2.4" height="41.1"/><rect x="1795.1" y="835.9" width="2.4" height="33.9"/><rect x="1807.9" y="842.0" width="2.4" height="39.3"/><rect x="1820.7" y="849.2" width="2.4" height="37.3"/><rect x="1833.5" y="820.9" width="2.4" height="52.7"/><rect x="1846.3" y="829.2" width="2.4" height="48.3"/><rect x="1859.1" y="834.3" width="2.4" height="42.4"/></g>
<circle cx="30.9" cy="801" r="4.8" fill="#f00"/><circle cx="312.3" cy="801" r="4.8" fill="#f00"/><circle cx="325.1" cy="801" r="4.8" fill="#f00"/><circle cx="568.2" cy="801" r="4.8" fill="#f00"/><circle cx="1438.1" cy="801" r="4.8" fill="#f00"/><circle cx="171.6" cy="938" r="4.8" fill="#00f"/><circle cx="184.4" cy="938" r="4.8" fill="#00f"/><circle cx="491.4" cy="938" r="4.8" fill="#00f"/><circle cx="772.9" cy="938" r="4.8" fill="#00f"/><circle cx="785.7" cy="938" r="4.8" fill="#00f"/><circle cx="926.4" cy="938" r="4.8" fill="#00f"/><circle cx="1642.8" cy="938" r="4.8" fill="#00f"/>
</g>
<rect x="4.8" y="993" width="1.2" height="3" fill="#222"/><rect x="81.6" y="993" width="1.2" height="3" fill="#222"/><rect x="158.3" y="993" width="1.2" height="3" fill="#222"/><rect x="235.1" y="993" width="1.2" height="3" fill="#222"/><rect x="311.8" y="993" width="1.2" height="3" fill="#222"/><rect x="388.6" y="993" width="1.2" height="3" fill="#222"/><rect x="465.3" y="993" width="1.2" height="3" fill="#222"/><rect x="542.1" y="993" width="1.2" height="3" fill="#222"/><rect x="618.9" y="993" width="1.2" height="3" fill="#222"/><rect x="695.6" y="993" width="1.2" height="3" fill="#222"/><rect x="772.4" y="993" width="1.2" height="3" fill="#222"/><rect x="849.1" y="993" width="1.2" height="3" fill="#222"/><rect x="925.9" y="993" width="1.2" height="3" fill="#222"/><rect x="1002.7" y="993" width="1.2" height="3" fill="#222"/><rect x="1079.4" y="993" width="1.2" height="3" fill="#222"/><rect x="1156.2" y="993" width="1.2" height="3" fill="#222"/><rect x="1232.9" y="993" width="1.2" height="3" fill="#222"/><rect x="1309.7" y="993" width="1.2" height="3" fill="#222"/><rect x="1386.4" y="993" width="1.2" height="3" fill="#222"/><rect x="1463.2" y="993" width="1.2" height="3" fill="#222"/><rect x="1540.0" y="993" width="1.2" height="3" fill="#222"/><rect x="1616.7" y="993" width="1.2" height="3" fill="#222"/><rect x="1693.5" y="993" width="1.2" height="3" fill="#222"/><rect x="1770.2" y="993" width="1.2" height="3" fill="#222"/><rect x="1847.0" y="993" width="1.2" height="3" fill="#222"/>
<g font-size="11" fill="#1a1a1a" stroke="#1a1a1a" stroke-width="0.25"><text x="1873.4" y="92.8" textLength="35.8" lengthAdjust="spacingAndGlyphs">1.79065</text><rect x="1868.3" y="88" width="1.6" height="1" fill="#555"/><text x="1873.4" y="132.8" textLength="35.8" lengthAdjust="spacingAndGlyphs">1.78735</text><rect x="1868.3" y="128" width="1.6" height="1" fill="#555"/><text x="1873.4" y="172.8" textLength="35.8" lengthAdjust="spacingAndGlyphs">1.78410</text><rect x="1868.3" y="168" width="1.6" height="1" fill="#555"/><text x="1873.4" y="212.8" textLength="35.8" lengthAdjust="spacingAndGlyphs">1.78085</text><rect x="1868.3" y="208" width="1.6" height="1" fill="#555"/><text x="1873.4" y="252.8" textLength="35.8" lengthAdjust="spacingAndGlyphs">1.77760</text><rect x="1868.3" y="248" width="1.6" height="1" fill="#555"/><text x="1873.4" y="292.8" textLength="35.8" lengthAdjust="spacingAndGlyphs">1.77430</text><rect x="1868.3" y="288" width="1.6" height="1" fill="#555"/><text x="1873.4" y="332.8" textLength="35.8" lengthAdjust="spacingAndGlyphs">1.77105</text><rect x="1868.3" y="328" width="1.6" height="1" fill="#555"/><text x="1873.4" y="372.8" textLength="35.8" lengthAdjust="spacingAndGlyphs">1.76780</text><rect x="1868.3" y="368" width="1.6" height="1" fill="#555"/><text x="1873.4" y="412.8" textLength="35.8" lengthAdjust="spacingAndGlyphs">1.76450</text><rect x="1868.3" y="408" width="1.6" height="1" fill="#555"/><text x="1873.4" y="452.8" textLength="35.8" lengthAdjust="spacingAndGlyphs">1.76125</text><rect x="1868.3" y="448" width="1.6" height="1" fill="#555"/><text x="1873.4" y="492.8" textLength="35.8" lengthAdjust="spacingAndGlyphs">1.75800</text><rect x="1868.3" y="488" width="1.6" height="1" fill="#555"/><text x="1873.4" y="532.8" textLength="35.8" lengthAdjust="spacingAndGlyphs">1.75475</text><rect x="1868.3" y="528" width="1.6" height="1" fill="#555"/><text x="1873.4" y="572.8" textLength="35.8" lengthAdjust="spacingAndGlyphs">1.75145</text><rect x="1868.3" y="568" width="1.6" height="1" fill="#555"/><text x="1873.4" y="612.8" textLength="35.8" lengthAdjust="spacingAndGlyphs">1.74820</text><rect x="1868.3" y="608" width="1.6" height="1" fill="#555"/><text x="1873.4" y="652.8" textLength="35.8" lengthAdjust="spacingAndGlyphs">1.74495</text><rect x="1868.3" y="648" width="1.6" height="1" fill="#555"/><text x="1873.4" y="692.8" textLength="35.8" lengthAdjust="spacingAndGlyphs">1.74170</text><rect x="1868.3" y="688" width="1.6" height="1" fill="#555"/><text x="1873.4" y="732.8" textLength="35.8" lengthAdjust="spacingAndGlyphs">1.73840</text><rect x="1868.3" y="728" width="1.6" height="1" fill="#555"/>
<text x="1870.2" y="756.6" textLength="11.2" lengthAdjust="spacingAndGlyphs">45</text>
<text x="1870.4" y="841.3" textLength="9.9" lengthAdjust="spacingAndGlyphs">12</text>
<text x="1870.4" y="873.8" textLength="19.4" lengthAdjust="spacingAndGlyphs">0.00</text>
<text x="1869.9" y="906.8" textLength="13.6" lengthAdjust="spacingAndGlyphs">-12</text>
<text x="1869.9" y="991.3" textLength="13.6" lengthAdjust="spacingAndGlyphs">-45</text>
<text x="19.5" y="93" textLength="50.5" lengthAdjust="spacingAndGlyphs">EURAUD,H1</text>
<text x="78" y="93" textLength="36.2" lengthAdjust="spacingAndGlyphs">1.73345</text>
<text x="117.5" y="93" textLength="36.2" lengthAdjust="spacingAndGlyphs">1.73463</text>
<text x="157.5" y="93" textLength="36.2" lengthAdjust="spacingAndGlyphs">1.73319</text>
<text x="197.5" y="93" textLength="36.2" lengthAdjust="spacingAndGlyphs">1.73444</text>
<text x="8.5" y="759.2" textLength="213.8" lengthAdjust="spacingAndGlyphs">Forex MTN MT4 by TFlab V1.2 -7.0756 -13.3112</text>
</g>
<path d="M7.5 86.6H14.4L11 90.6Z" fill="#000"/>
<!-- annotations -->
<path fill="#111" d="M1007.8 150.6L1007.8 150.9L1010.2 153.5L1010.4 153.5L1012.9 150.9L1013.1 150.9L1015.5 153.5L1015.7 153.5L1018.2 150.9L1018.2 150.6L1015.7 148.0L1013.1 150.9L1012.7 150.6L1010.2 148.0ZM870.0 147.8L867.3 150.6L867.3 150.9L870.0 153.7L872.6 150.9L872.6 150.6ZM925.8 134.5L921.7 135.8L921.7 136.7L922.4 138.2L922.4 138.9L922.8 140.0L922.8 140.8L923.0 141.1L923.0 144.5L922.8 144.8L922.6 146.1L921.7 147.4L920.9 148.2L918.9 149.5L918.5 149.5L917.1 150.2L916.4 150.2L915.6 150.6L917.3 155.0L917.5 154.8L918.1 154.8L918.3 154.6L919.9 154.1L922.6 152.6L924.4 150.9L925.4 149.3L926.2 147.6L926.4 146.3L926.6 146.1L926.6 145.2L926.8 145.0L926.8 143.0L927.0 142.8L927.0 142.4L926.8 142.1L926.8 139.5L926.6 139.3L926.6 138.0L926.4 137.8L926.4 136.9L925.8 135.2ZM675.5 132.1L675.3 131.9L675.1 132.1L673.7 132.3L672.9 132.8L672.2 132.8L671.4 133.2L671.8 134.1L671.8 135.0L672.0 135.2L672.0 136.0L672.2 136.3L672.2 139.3L672.0 139.5L672.0 140.0L671.2 140.8L669.6 140.8L668.6 139.5L668.2 134.1L667.6 134.1L667.3 134.3L665.7 134.3L665.5 134.5L664.3 134.5L664.3 135.0L664.5 135.2L664.5 139.3L664.3 139.5L664.3 140.0L663.3 140.8L661.4 140.8L661.2 140.6L660.8 140.6L659.8 139.5L658.8 137.3L658.8 136.7L658.0 134.5L657.4 135.0L657.0 135.0L655.7 135.6L654.3 136.0L654.1 136.3L654.1 136.7L655.1 139.3L655.1 140.0L655.5 141.1L655.5 141.9L655.7 142.1L655.7 145.0L655.5 145.2L655.5 145.8L654.9 147.4L653.7 148.7L652.5 149.3L651.0 149.5L650.8 149.8L648.6 149.8L648.4 149.5L647.4 149.5L645.9 148.9L644.7 147.8L643.9 146.3L643.7 144.3L643.5 144.1L643.5 142.8L643.7 142.6L643.9 140.2L644.1 140.0L644.3 138.7L644.9 136.9L644.5 136.9L643.9 136.5L643.5 136.5L641.3 135.4L641.1 136.3L640.6 136.9L640.6 137.6L640.4 137.8L640.4 138.4L640.0 139.5L640.0 140.4L639.8 140.6L639.8 142.1L639.6 142.4L639.6 145.2L639.8 145.4L639.8 146.7L640.2 147.6L640.2 148.2L641.3 150.4L642.1 151.3L642.1 151.5L642.3 151.5L643.9 153.0L645.1 153.7L646.4 153.9L646.6 154.1L647.4 154.1L647.6 154.3L651.2 154.3L651.4 154.1L653.3 153.9L655.5 152.8L657.6 150.9L659.0 148.2L659.0 147.8L659.4 146.9L659.4 146.3L659.6 146.1L659.6 145.2L659.8 145.0L660.2 145.0L661.4 145.6L663.5 145.6L664.5 145.2L666.5 143.4L667.8 144.8L668.4 145.2L668.8 145.2L669.6 145.6L671.6 145.6L671.8 145.4L672.4 145.4L673.7 144.8L674.7 143.7L675.7 141.5L675.9 139.3L676.1 139.1L676.1 135.8L675.9 135.6L675.9 134.1L675.7 133.9ZM937.4 131.9L936.8 131.9L936.6 131.7L934.8 131.7L932.7 132.6L931.3 134.1L930.1 136.7L929.9 138.4L929.7 138.7L929.7 140.4L929.9 140.6L929.9 141.7L930.5 143.2L931.7 144.5L932.5 145.0L933.0 145.0L933.8 145.4L934.4 145.4L934.6 145.6L937.4 145.6L937.6 145.8L937.4 146.5L935.4 148.5L933.4 149.5L932.1 149.8L930.5 150.4L929.9 150.4L929.7 150.6L931.1 154.8L931.9 154.8L932.1 154.6L932.7 154.6L933.0 154.3L935.2 153.7L937.8 152.2L938.7 151.5L940.3 149.5L941.7 146.5L941.9 144.5L942.1 144.3L942.1 139.5L941.9 139.3L941.7 137.6L941.5 137.3L941.3 136.3L939.9 133.6L939.3 133.0ZM937.4 145.6L937.6 145.4L937.8 145.6L937.6 145.8ZM934.0 137.3L935.2 136.3L936.2 136.3L936.6 136.5L937.4 137.3L937.8 138.2L937.8 138.7L938.3 139.5L938.3 140.6L938.0 140.8L936.8 140.8L936.6 141.1L934.4 140.8L933.6 140.0L933.6 138.7L933.8 138.4ZM910.7 131.9L910.1 131.9L909.9 131.7L907.9 131.7L906.3 132.3L905.4 133.0L904.2 134.5L903.2 137.1L903.2 137.8L903.0 138.0L903.0 141.3L903.8 143.4L905.2 144.8L905.6 144.8L906.9 145.4L907.7 145.4L907.9 145.6L910.5 145.6L910.7 145.4L910.9 145.6L910.3 146.9L909.5 147.8L907.5 149.1L907.1 149.1L906.5 149.5L906.0 149.5L905.2 150.0L904.6 150.0L904.4 150.2L903.8 150.2L903.6 150.4L903.0 150.4L902.8 150.6L903.8 153.0L904.2 154.8L905.2 154.8L905.4 154.6L906.0 154.6L906.3 154.3L907.9 153.9L910.1 152.8L911.3 151.9L913.4 149.8L914.6 147.4L914.6 146.9L915.0 146.1L915.2 143.9L915.4 143.7L915.4 140.4L915.2 140.2L915.2 139.1L915.0 138.9L915.0 138.0L914.6 137.1L914.6 136.5L913.4 134.1L912.0 132.6ZM907.5 136.9L908.5 136.3L909.3 136.3L909.7 136.5L910.7 137.6L911.1 138.4L911.6 140.6L911.3 140.8L910.1 140.8L909.9 141.1L908.9 141.1L908.7 140.8L907.7 140.8L906.9 140.2L906.7 139.3L906.9 139.1L907.1 137.6ZM730.7 133.0L730.7 133.6L730.3 134.7L730.3 135.8L730.1 136.0L730.1 138.4L730.3 138.7L730.5 140.4L731.4 141.9L733.4 143.9L734.6 144.5L735.8 144.8L736.7 145.2L740.1 145.4L740.3 145.6L748.3 145.6L748.5 145.4L751.5 145.2L751.7 145.0L752.8 144.8L754.6 143.7L755.8 142.1L756.4 140.6L756.4 140.0L756.6 139.7L756.6 135.2L756.4 135.0L756.4 133.4L756.2 133.2L756.0 131.7L752.1 132.8L752.1 133.6L752.3 133.9L752.6 135.8L752.8 136.0L752.8 138.9L751.9 140.0L750.5 140.6L749.5 140.6L749.3 140.8L746.6 140.8L746.4 141.1L739.1 140.8L738.9 140.6L737.7 140.6L737.5 140.4L736.9 140.4L736.2 140.0L735.8 140.0L734.4 138.7L734.2 137.6L734.0 137.3L734.2 135.4L734.4 135.2L734.4 134.5L734.6 134.3L734.8 133.2L731.4 131.7ZM686.7 131.9L686.1 131.9L685.9 131.7L683.9 131.7L682.2 132.3L681.4 133.0L680.4 134.3L679.4 136.5L679.4 137.1L679.0 138.2L679.0 141.1L679.2 141.3L679.4 142.6L680.0 143.7L681.0 144.5L682.2 145.2L682.8 145.2L683.9 145.6L686.7 145.6L686.9 145.8L686.5 146.7L685.3 148.0L684.7 148.2L684.3 148.7L683.0 149.3L682.6 149.3L680.6 150.2L679.0 150.4L679.0 151.1L679.4 151.7L679.6 152.8L680.0 153.5L680.0 153.9L680.4 154.8L681.2 154.8L681.4 154.6L682.0 154.6L682.2 154.3L684.5 153.7L687.3 151.9L688.1 151.1L688.3 151.1L689.6 149.5L690.6 147.6L690.6 147.1L691.0 146.3L691.2 144.3L691.4 144.1L691.4 140.0L691.2 139.7L691.0 137.8L689.6 134.3L687.9 132.6ZM683.2 137.3L684.5 136.3L685.3 136.3L686.1 136.7L686.9 137.8L686.9 138.2L687.3 139.1L687.3 139.7L687.5 140.0L687.5 140.6L687.3 140.8L686.1 140.8L685.9 141.1L684.9 141.1L684.7 140.8L683.7 140.8L682.8 140.2L682.8 138.2ZM851.4 134.7L851.2 136.0L851.0 136.3L851.0 138.7L851.8 140.8L852.8 141.9L854.3 142.8L855.5 143.0L855.7 143.2L858.1 143.2L858.3 143.0L859.0 143.0L859.6 142.6L860.0 142.6L861.0 141.7L861.8 143.4L863.0 144.8L864.5 145.4L865.3 145.4L865.5 145.6L870.8 145.6L871.0 145.4L872.2 145.2L873.6 144.3L874.2 143.7L874.5 143.0L874.9 142.6L874.9 142.1L875.3 141.3L875.3 140.6L875.5 140.4L875.5 139.1L875.7 138.9L875.7 136.5L875.5 136.3L875.5 134.3L875.3 134.1L875.1 131.7L874.9 131.7L874.7 131.9L872.4 132.3L871.6 132.8L871.0 132.8L871.2 134.3L871.6 135.4L871.8 138.7L871.6 138.9L871.4 140.0L870.8 140.6L869.8 140.8L869.6 141.1L867.5 141.1L867.3 140.8L865.9 140.8L865.5 140.6L864.7 139.7L864.3 138.7L864.1 136.3L863.9 136.0L863.9 134.7L863.6 134.5L863.6 133.4L863.4 133.2L863.4 131.9L863.2 131.7L863.2 130.4L863.0 130.2L863.0 128.9L862.8 128.6L862.8 127.5L861.6 127.8L861.4 128.0L860.6 128.0L860.4 128.2L859.6 128.2L859.2 128.4L859.2 129.1L859.0 129.3L857.5 129.7L854.9 131.0L853.5 132.1L852.2 133.4ZM859.8 133.6L860.0 133.9L860.2 136.3L860.4 136.5L860.2 136.7L860.2 137.3L859.4 138.2L858.6 138.7L856.7 138.9L855.7 138.4L855.1 137.8L855.1 137.3L854.9 137.1L855.1 136.9L855.1 136.5L856.3 135.2L858.8 133.9ZM891.4 127.3L891.2 127.3L889.3 131.5L893.4 134.1L895.7 136.5L896.3 137.8L896.3 138.9L895.4 140.0L893.4 140.8L892.2 140.8L892.0 141.1L889.7 141.1L889.5 140.8L887.9 140.8L887.7 140.6L886.7 140.6L886.5 140.4L886.5 145.2L888.5 145.4L888.7 145.6L892.6 145.6L892.8 145.4L895.0 145.2L896.3 144.5L896.7 144.5L897.7 143.9L899.1 142.4L899.9 140.4L899.9 139.3L900.1 139.1L900.1 137.1L899.9 136.9L899.9 136.0L898.5 133.0L896.1 130.4L895.2 129.9L894.6 129.3ZM748.9 129.9L746.2 127.1L743.6 129.9L743.4 129.9L740.9 127.3L740.7 127.3L738.3 129.9L740.9 132.8L743.6 129.9L746.2 132.8ZM589.5 127.5L587.8 128.4L586.4 129.7L585.8 130.6L584.8 133.0L584.6 135.0L584.4 135.2L584.4 138.2L584.6 138.4L584.6 139.3L584.8 139.5L585.0 140.6L585.4 141.3L585.4 141.7L586.8 143.7L588.3 144.8L589.1 145.2L589.5 145.2L590.1 145.6L590.7 145.6L590.9 145.8L595.0 145.8L595.2 145.6L596.4 145.4L598.2 144.3L599.7 142.8L597.4 140.2L596.6 141.1L595.0 141.9L594.2 141.9L594.0 142.1L592.1 141.9L590.9 141.3L590.1 140.4L589.5 139.3L589.3 138.2L589.5 138.0L600.1 138.0L600.1 134.3L599.9 134.1L599.9 133.2L599.7 133.0L599.7 132.3L599.3 131.7L599.3 131.2L597.8 129.1L596.4 128.0L596.0 128.0L595.4 127.5L594.0 127.3L593.8 127.1L591.1 127.1L590.9 127.3ZM589.3 134.5L589.5 134.3L589.5 133.6L589.9 132.6L591.5 131.0L593.4 131.0L594.2 131.5L595.0 132.3L595.4 133.4L595.4 134.7L595.2 135.0L589.7 135.0ZM715.9 127.1L714.0 126.2L711.6 126.2L709.7 127.1L707.9 129.3L707.3 130.6L707.1 131.9L706.9 132.1L706.9 135.2L707.5 136.7L709.1 138.2L709.5 138.2L710.4 138.7L711.0 138.7L711.2 138.9L714.8 138.9L715.0 138.7L715.5 139.1L715.2 139.3L715.2 139.7L714.2 140.6L713.8 140.6L713.6 140.8L711.2 140.8L711.0 141.1L705.9 141.1L705.7 140.8L704.2 140.8L703.4 140.2L702.8 139.1L702.6 137.8L702.0 136.0L702.0 135.4L701.8 135.2L701.8 134.5L697.7 135.8L697.7 136.5L698.3 138.0L698.3 138.7L698.7 139.7L698.7 140.6L698.9 140.8L698.9 142.6L699.1 142.8L699.1 143.2L698.9 143.4L698.9 145.0L697.9 147.1L696.7 148.5L694.9 149.5L694.5 149.5L692.4 150.4L691.8 150.4L691.6 150.6L692.2 151.9L692.4 153.0L692.8 153.7L693.0 154.8L694.0 154.8L694.3 154.6L694.9 154.6L695.5 154.1L696.5 153.9L698.3 152.8L699.1 151.9L699.3 151.9L700.6 150.6L701.4 149.3L702.2 147.6L702.2 147.1L702.6 146.3L702.6 145.4L702.8 145.2L703.4 145.2L704.4 145.6L712.8 145.6L713.0 145.4L714.2 145.4L714.4 145.2L715.9 145.0L716.9 144.3L718.1 143.0L718.9 141.1L718.9 140.4L719.1 140.2L719.1 138.7L719.3 138.4L719.1 134.1L718.9 133.9L718.9 132.8L718.5 131.9L718.5 131.2L717.9 130.2L717.9 129.7L717.5 129.3L717.3 128.6ZM710.8 132.1L711.2 131.5L712.0 130.8L713.4 130.8L714.6 132.1L715.2 133.9L715.2 134.5L714.2 135.0L711.8 135.0L711.6 134.7L711.2 134.7L710.6 134.1L710.6 132.8L710.8 132.6ZM668.2 126.0L666.9 127.3L666.1 128.6L668.4 131.0L668.6 131.0L670.8 128.6L670.8 128.4L668.6 126.0ZM663.1 126.0L662.7 126.0L660.4 128.4L660.4 128.6L662.7 131.0L662.9 131.0L665.1 128.6L665.1 128.4ZM987.6 125.2L984.9 128.0L984.9 128.2L987.6 131.0L990.2 128.2L990.2 128.0ZM971.3 122.1L967.2 122.1L967.2 144.1L967.0 144.3L966.8 146.5L966.2 147.8L965.6 148.5L963.9 149.3L962.5 149.3L962.3 149.5L961.7 149.5L961.5 149.3L959.9 149.1L959.0 148.7L957.6 147.1L957.0 145.4L957.0 142.6L957.2 142.4L957.4 140.4L958.4 137.6L957.6 137.1L957.2 137.1L956.6 136.7L956.2 136.7L955.6 136.3L954.6 136.0L954.6 136.5L953.9 138.0L953.9 138.7L953.5 139.5L953.5 140.6L953.3 140.8L953.3 141.9L953.1 142.1L953.1 145.8L953.3 146.1L953.3 147.1L953.5 147.4L953.7 148.7L954.8 150.6L956.4 152.4L957.8 153.2L958.2 153.2L958.8 153.7L960.9 153.9L961.1 154.1L963.7 154.1L963.9 153.9L965.0 153.9L965.2 153.7L966.8 153.2L967.8 152.6L969.4 150.9L970.3 149.3L970.3 148.9L970.9 147.4L971.1 145.0L971.3 144.8ZM798.2 122.1L798.2 139.7L798.4 140.0L798.4 140.8L799.2 143.0L799.8 143.9L801.9 145.2L803.3 145.4L803.5 145.6L808.8 145.6L809.0 145.4L810.4 145.4L810.6 145.2L812.5 145.0L812.7 144.8L813.7 144.5L814.7 143.9L815.1 143.9L816.2 144.5L817.2 144.8L817.8 145.2L819.8 145.4L820.0 145.6L825.1 145.6L825.3 145.4L825.9 145.4L827.0 145.0L828.6 143.4L828.8 143.4L830.4 144.8L831.6 145.4L832.1 145.4L832.9 145.8L833.5 145.8L833.7 146.1L835.3 146.1L835.5 145.8L836.3 145.8L838.2 144.8L838.8 144.1L839.6 142.6L839.8 141.3L840.0 141.1L840.0 137.3L839.8 137.1L839.6 136.0L838.8 134.5L837.6 133.2L836.1 132.3L834.9 132.1L834.7 131.9L832.7 131.9L831.0 132.6L829.2 134.3L827.8 136.5L826.5 138.9L825.3 140.4L824.7 140.8L821.0 141.1L820.8 140.8L819.6 140.8L819.2 140.4L820.2 139.3L820.2 139.1L821.2 138.0L822.3 136.5L823.1 134.3L822.9 134.1L822.9 133.4L822.1 132.6L820.4 131.7L819.2 131.5L819.0 131.2L818.2 131.2L818.0 131.0L816.4 131.0L816.2 130.8L813.9 130.8L813.7 131.0L811.9 131.0L811.7 131.2L810.9 131.2L810.6 131.5L809.4 131.7L807.8 132.6L807.2 133.2L807.0 133.6L807.0 135.0L808.2 137.3L810.9 140.4L810.6 140.6L810.2 140.6L810.0 140.8L807.4 140.8L807.2 141.1L803.7 140.8L802.7 140.0L802.3 138.9L802.3 122.1ZM833.1 136.5L834.7 136.5L835.1 136.7L836.1 138.0L836.1 138.7L836.3 138.9L836.1 140.2L835.3 141.3L834.3 141.5L834.1 141.3L833.1 141.1L832.3 140.6L831.0 139.5L831.0 139.1L832.1 137.3ZM811.5 135.6L812.5 135.2L817.4 135.2L818.4 135.6L814.9 139.3ZM759.7 124.1L762.1 131.2L762.1 131.9L762.7 133.4L762.7 134.1L762.9 134.3L762.9 135.0L763.2 135.2L763.2 135.8L763.4 136.0L763.4 136.7L763.6 136.9L763.6 137.6L763.8 137.8L763.8 138.4L764.2 139.5L764.2 140.4L764.4 140.6L764.2 141.1L760.5 141.1L760.3 140.8L759.7 140.8L759.7 145.4L760.7 145.4L760.9 145.6L765.2 145.6L765.4 145.4L766.4 145.4L766.6 145.2L768.0 145.0L769.3 144.3L769.7 144.3L771.5 143.2L772.5 142.1L774.2 144.3L775.4 145.2L776.6 145.4L776.8 145.6L779.5 145.6L779.7 145.4L780.5 145.4L781.7 144.8L783.1 143.4L785.2 145.0L786.0 145.2L786.6 145.6L787.8 145.8L788.0 146.1L789.7 146.1L789.9 145.8L790.7 145.8L792.1 145.2L793.7 143.2L794.3 141.5L794.3 140.6L794.5 140.4L794.5 138.0L794.3 137.8L794.1 136.3L792.9 134.1L792.3 133.4L791.1 132.6L790.7 132.6L790.1 132.1L789.4 132.1L789.2 131.9L787.2 131.9L785.2 132.8L783.3 134.7L780.7 139.3L779.5 140.6L779.1 140.8L777.0 140.8L776.0 139.7L776.0 139.3L775.6 138.7L775.6 137.8L775.4 137.6L775.4 122.1L771.3 122.1L771.3 134.5L771.1 134.7L771.1 136.3L770.9 136.5L770.7 137.8L770.1 138.9L769.3 139.7L768.5 140.2L768.0 139.3L767.8 137.6L767.6 137.3L767.0 134.1L766.6 133.2L766.4 131.7L766.0 130.8L766.0 130.2L765.8 129.9L765.8 129.5L765.6 129.3L765.6 128.9L765.4 128.6L765.4 128.2L765.2 128.0L765.2 127.5L763.6 122.8L763.2 122.5L761.5 123.4L761.1 123.4L760.1 124.1ZM787.2 136.7L787.6 136.5L789.0 136.5L790.5 137.8L790.5 138.2L790.7 138.4L790.7 140.0L790.1 141.1L789.0 141.3L788.8 141.5L788.6 141.3L788.0 141.3L786.2 140.2L785.4 139.3L786.2 137.8ZM975.8 122.1L975.8 139.1L976.0 139.3L976.0 140.4L976.2 140.6L976.2 141.5L977.0 143.2L978.2 144.5L980.0 145.4L980.9 145.4L981.1 145.6L984.5 145.6L984.7 145.4L985.7 145.4L988.0 144.3L988.8 143.4L989.0 143.4L989.4 144.1L990.2 144.8L992.5 145.6L999.6 145.6L999.8 145.4L1000.8 145.4L1001.0 145.2L1002.3 145.0L1003.7 144.1L1004.7 143.0L1005.1 143.7L1006.3 144.8L1007.8 145.4L1008.8 145.4L1009.0 145.6L1013.1 145.6L1013.3 145.4L1014.1 145.4L1016.1 144.5L1017.3 143.4L1018.4 144.5L1020.0 145.4L1020.6 145.4L1020.8 145.6L1024.5 145.6L1024.7 145.4L1025.5 145.4L1026.9 144.8L1028.4 143.4L1030.0 145.0L1030.8 145.4L1031.6 145.4L1031.8 145.6L1034.1 145.6L1034.3 145.4L1034.7 145.4L1035.5 145.0L1037.1 143.4L1038.1 144.5L1039.6 145.4L1040.2 145.4L1040.4 145.6L1042.4 145.6L1044.0 145.0L1045.5 143.4L1046.3 141.7L1046.3 140.8L1046.7 139.7L1046.7 135.2L1046.5 135.0L1046.5 133.9L1046.3 133.6L1046.1 131.9L1045.1 132.1L1044.3 132.6L1042.2 133.0L1042.2 133.6L1042.6 134.7L1042.6 135.6L1042.8 135.8L1042.8 137.8L1043.0 138.2L1042.8 138.4L1042.8 139.5L1041.8 140.8L1040.4 140.8L1040.0 140.6L1039.2 139.3L1039.2 137.6L1039.0 137.3L1039.0 135.0L1038.7 134.7L1038.7 134.1L1035.1 134.5L1035.3 138.7L1035.1 138.9L1035.1 139.7L1034.9 140.2L1034.1 140.8L1031.8 140.8L1030.8 139.7L1030.6 139.3L1030.6 138.4L1030.4 138.2L1030.4 135.6L1030.2 135.4L1030.2 134.1L1029.6 134.1L1029.4 134.3L1027.7 134.3L1027.5 134.5L1026.5 134.5L1026.3 134.7L1026.5 135.0L1026.5 139.3L1026.3 139.5L1026.3 140.0L1025.9 140.4L1025.1 140.8L1023.5 140.8L1023.3 141.1L1022.6 141.1L1022.4 140.8L1021.0 140.8L1020.8 140.6L1020.4 140.6L1019.6 139.7L1019.6 139.3L1019.4 139.1L1019.2 134.1L1019.0 133.6L1015.3 134.1L1015.5 138.4L1015.3 138.7L1015.1 139.7L1014.3 140.6L1013.9 140.8L1012.5 140.8L1012.2 141.1L1010.8 141.1L1010.6 140.8L1008.8 140.8L1008.6 140.6L1008.2 140.6L1006.9 139.3L1005.5 135.8L1004.3 134.1L1002.7 132.6L999.0 129.9L1007.6 126.2L1007.6 121.7L1006.7 121.9L1006.1 122.3L1005.7 122.3L1005.1 122.8L1004.7 122.8L1004.1 123.2L1003.7 123.2L1003.1 123.6L1002.7 123.6L1002.1 124.1L1001.6 124.1L1000.6 124.7L1000.2 124.7L999.6 125.2L999.2 125.2L996.6 126.5L996.1 126.5L994.9 127.1L993.9 128.4L993.7 130.2L993.9 130.4L993.9 131.0L994.7 132.6L1000.4 136.5L1001.9 137.8L1002.3 138.4L1002.3 139.5L1001.4 140.4L1000.4 140.6L1000.2 140.8L997.4 140.8L997.2 141.1L994.1 141.1L993.9 140.8L992.5 140.8L991.7 140.4L991.3 140.0L991.0 138.9L990.8 138.7L990.6 133.6L989.8 133.6L989.6 133.9L986.8 134.1L986.8 134.7L987.0 135.0L987.0 138.9L986.6 140.0L986.2 140.4L985.3 140.8L983.9 140.8L983.7 141.1L983.1 141.1L982.9 140.8L981.3 140.8L980.2 140.0L980.0 139.5L980.0 138.7L979.8 138.4L979.8 122.1ZM665.5 121.7L663.3 124.1L663.3 124.3L665.5 126.7L665.7 126.7L668.0 124.3L668.0 124.1L665.7 121.7ZM570.5 121.0L567.7 122.3L567.1 122.8L565.6 124.5L565.0 125.8L565.0 127.1L564.8 127.3L565.0 127.8L565.0 129.3L565.2 129.5L565.2 129.9L565.8 131.0L568.1 133.2L572.2 135.2L574.8 136.0L575.2 136.5L575.8 136.7L576.8 137.8L576.8 138.2L577.0 138.4L577.0 139.7L576.8 140.0L576.8 140.4L575.6 141.7L575.2 141.7L575.0 141.9L572.2 141.9L571.9 141.7L570.9 141.5L569.9 140.6L569.5 140.0L569.5 139.5L569.3 139.3L569.3 138.2L569.1 138.0L564.2 138.0L564.4 140.2L565.0 141.7L566.6 143.7L569.1 145.2L569.7 145.2L569.9 145.4L571.3 145.6L571.5 145.8L576.0 145.8L576.2 145.6L577.0 145.6L579.1 144.8L581.1 142.8L581.9 140.8L581.9 137.6L581.7 137.3L581.5 136.3L580.9 135.2L578.9 133.2L576.4 131.9L573.2 130.8L571.1 129.7L569.9 128.2L569.9 126.9L570.3 126.0L570.9 125.4L571.7 124.9L572.4 124.9L572.6 124.7L574.4 124.7L575.8 125.4L576.8 126.7L577.0 128.2L581.9 128.2L581.9 126.7L581.7 126.5L581.7 125.8L580.7 123.8L579.5 122.5L577.7 121.4L577.2 121.4L576.4 121.0L575.6 121.0L575.4 120.8L571.7 120.8L571.5 121.0ZM611.7 119.7L611.7 145.6L616.6 145.6L616.6 119.7ZM602.9 119.7L602.9 145.6L607.8 145.6L607.8 119.7ZM620.3 118.4L619.2 121.0L619.6 121.2L621.3 123.2L622.3 125.2L622.3 125.6L622.7 126.2L622.7 126.7L623.3 128.2L623.3 129.1L623.5 129.3L623.5 130.2L623.7 130.4L623.7 131.7L623.9 131.9L624.1 137.1L623.9 137.3L623.7 141.1L623.5 141.3L623.5 142.1L623.3 142.4L622.9 144.5L621.5 147.8L619.2 150.4L619.9 151.7L620.1 152.8L620.5 152.8L622.3 151.5L623.9 149.8L624.9 148.2L625.4 147.1L625.8 146.7L626.2 145.2L626.8 144.1L627.0 142.6L627.4 141.7L627.6 139.3L627.8 139.1L627.8 136.7L628.0 136.5L627.6 130.8L627.4 130.6L627.4 129.7L627.2 129.5L627.0 128.0L626.0 125.6L626.0 125.2L624.7 122.8L623.3 121.0L623.3 120.8L621.7 119.3L621.1 119.1ZM561.3 118.4L559.1 119.9L558.1 121.0L556.5 123.4L554.6 128.0L554.6 128.6L554.4 128.9L554.4 129.5L554.0 130.6L553.8 134.3L553.6 134.5L553.6 136.9L553.8 137.1L554.0 140.8L554.2 141.1L554.2 141.9L554.4 142.1L554.6 143.4L554.8 143.7L555.0 144.8L555.4 145.4L555.4 145.8L556.3 147.6L557.5 149.5L559.7 151.9L561.1 152.8L561.6 152.6L562.0 151.1L562.4 150.4L560.1 147.8L558.9 145.2L558.9 144.8L558.5 143.9L558.5 143.2L558.3 143.0L558.3 142.4L557.9 141.3L557.9 140.0L557.7 139.7L557.7 137.8L557.5 137.6L557.5 133.9L557.7 133.6L557.7 131.7L557.9 131.5L558.1 129.1L558.3 128.9L558.3 128.2L558.5 128.0L559.1 125.6L560.7 122.5L562.4 121.0ZM712.2 118.2L709.5 121.0L712.2 123.8L712.4 123.8L715.0 121.0L712.4 118.2ZM1007.4 117.3L994.7 122.8L994.5 123.0L994.5 125.2L994.9 125.2L995.5 124.7L995.9 124.7L996.6 124.3L997.0 124.3L997.6 123.8L998.0 123.8L998.6 123.4L1000.0 123.0L1001.0 122.3L1001.4 122.3L1002.1 121.9L1002.5 121.9L1003.1 121.4L1003.5 121.4L1004.1 121.0L1004.5 121.0L1005.1 120.6L1005.5 120.6L1006.1 120.1L1006.5 120.1L1007.4 119.7Z"/>
<path fill="#111" d="M206.3 614.2L206.1 614.4L205.7 614.4L204.8 615.4L204.6 615.7L204.6 616.9L205.3 618.0L206.1 618.4L207.2 618.4L208.2 617.8L208.5 617.3L208.7 616.1L208.4 615.2L207.8 614.6L206.8 614.2ZM288.0 614.2L287.5 614.6L286.9 615.5L286.9 616.1L286.7 616.3L286.9 617.3L287.3 617.8L288.0 618.4L289.9 618.4L290.6 617.8L291.0 617.1L291.0 615.5L289.9 614.2L289.5 614.2L289.3 614.0ZM382.9 598.9L382.5 598.9L382.3 598.7L379.9 598.7L379.7 598.9L378.8 599.1L377.6 599.8L376.7 600.8L375.6 602.7L375.6 603.1L375.2 603.7L375.2 604.3L375.0 604.4L375.0 605.4L374.8 605.6L374.8 607.1L375.0 607.3L375.2 608.5L375.6 609.0L377.1 610.4L377.5 610.4L378.2 610.8L379.3 610.8L379.5 611.0L381.4 610.8L381.6 610.6L382.0 610.6L382.2 610.8L381.0 611.9L379.3 612.9L379.0 612.9L378.2 613.2L377.6 613.2L377.5 613.4L376.9 613.4L376.7 613.6L374.3 613.8L374.1 614.2L374.3 614.4L374.3 615.2L374.4 615.4L374.4 616.1L374.6 616.3L374.6 617.1L374.8 617.3L374.8 618.2L376.9 618.0L377.1 617.8L378.0 617.8L378.2 617.7L379.5 617.5L382.5 616.1L383.7 615.4L385.3 613.6L386.5 611.7L386.5 611.3L386.8 610.6L386.8 610.0L387.0 609.8L387.0 609.0L387.2 608.8L387.2 605.4L387.0 605.2L387.0 604.4L386.8 604.3L386.5 602.7L385.5 601.0L384.0 599.5ZM380.3 603.1L381.0 602.9L382.0 603.5L382.5 604.4L382.7 605.6L382.9 605.8L382.9 606.5L382.7 606.7L382.2 606.7L382.0 606.9L380.3 606.9L380.1 606.7L379.7 606.7L379.1 606.2L379.1 604.6L379.5 603.9ZM246.5 601.0L245.0 601.0L244.8 600.8L244.1 600.8L242.9 600.2L242.5 600.2L239.4 598.5L239.0 598.5L237.8 597.9L236.5 597.7L236.3 597.6L235.4 597.6L235.2 597.4L232.0 597.4L231.8 597.6L230.5 597.6L230.3 597.7L230.0 597.7L230.0 598.9L230.1 599.1L230.1 600.2L230.3 600.4L230.3 601.8L230.5 602.0L230.5 602.3L230.9 602.3L231.1 602.1L232.8 602.1L233.0 602.0L233.9 602.0L234.1 602.1L236.7 602.1L236.9 602.3L237.7 602.3L237.8 602.5L239.7 602.9L240.5 603.3L240.7 603.7L238.4 605.0L238.0 605.0L237.5 605.4L237.1 605.4L235.8 606.0L235.2 606.0L235.0 606.2L234.3 606.2L234.1 606.4L233.3 606.4L233.2 606.5L232.0 606.5L231.8 606.7L227.1 606.7L226.2 606.4L225.4 605.6L225.1 604.8L224.5 602.7L223.8 601.2L223.8 600.8L222.8 599.1L218.9 601.2L220.4 604.4L220.4 604.8L220.8 605.6L220.8 606.4L220.9 606.5L220.8 608.7L219.8 610.4L218.5 611.7L216.8 612.9L216.1 613.1L215.1 613.6L213.6 614.0L213.6 614.4L213.8 614.6L213.8 615.0L213.6 615.2L213.0 614.6L212.1 614.2L211.0 614.4L210.0 615.4L210.0 615.7L209.9 615.9L209.9 616.9L210.2 617.7L211.4 618.4L212.5 618.4L213.2 618.0L213.8 617.3L214.0 616.1L214.2 615.9L215.1 618.2L215.3 618.0L217.4 617.5L220.2 615.9L221.7 614.6L221.9 614.6L223.6 612.7L224.5 611.0L224.5 610.6L224.9 610.2L226.0 611.0L226.4 611.0L227.1 611.3L229.4 611.3L229.6 611.1L232.0 611.1L232.2 611.0L234.1 610.8L234.3 610.6L235.6 610.4L235.8 610.2L237.3 609.8L237.8 609.4L238.2 609.4L240.5 608.3L242.4 606.9L243.3 606.5L243.7 606.2L244.8 605.6L245.2 605.6L245.9 605.2L246.9 605.2L247.1 605.0L246.9 604.8L246.9 603.5L246.7 603.3ZM213.8 615.7L214.0 615.5L214.2 615.7L214.0 615.9ZM213.6 615.2L213.8 615.0L214.0 615.4L213.8 615.5ZM389.9 609.8L391.7 610.8L393.2 611.0L393.4 611.1L394.6 611.1L394.7 611.3L397.6 611.3L397.7 611.1L399.6 610.8L401.9 609.4L402.8 610.4L404.3 611.1L405.1 611.1L405.3 611.3L407.5 611.3L407.7 611.1L410.1 611.1L410.3 611.0L411.3 611.0L411.5 610.8L412.2 610.8L412.4 610.6L413.7 610.4L413.9 610.2L415.4 609.8L416.0 609.4L416.3 609.4L419.5 607.7L420.3 608.8L421.2 609.8L422.9 610.8L424.2 611.0L424.4 611.1L425.6 611.1L425.7 611.3L428.2 611.3L428.4 611.1L429.3 611.1L429.5 611.0L430.4 610.8L432.1 609.4L435.1 610.8L437.0 611.0L437.2 611.1L439.1 611.1L439.3 611.0L440.4 610.8L440.8 610.4L441.3 610.2L442.7 608.7L443.2 607.1L443.2 606.5L443.4 606.4L443.4 604.3L443.2 604.1L443.0 602.7L442.3 601.2L440.6 599.3L438.5 598.1L435.9 598.1L434.2 598.9L432.7 600.2L431.2 602.5L430.3 604.4L429.5 605.6L428.6 606.5L428.2 606.5L428.0 606.7L425.2 606.7L425.0 606.5L424.2 606.5L423.3 606.2L422.9 605.8L423.5 605.4L423.9 605.4L424.1 605.2L425.0 605.2L425.2 605.0L425.0 604.8L425.0 603.5L424.8 603.3L424.6 601.0L423.1 601.0L422.9 600.8L422.2 600.8L421.0 600.2L420.7 600.2L417.5 598.5L417.1 598.5L416.0 597.9L414.7 597.7L414.5 597.6L413.5 597.6L413.3 597.4L410.1 597.4L410.0 597.6L408.6 597.6L408.5 597.7L408.1 597.7L408.1 598.9L408.3 599.1L408.3 600.2L408.5 600.4L408.5 601.8L408.6 602.0L408.6 602.3L409.0 602.3L409.2 602.1L410.9 602.1L411.1 602.0L412.0 602.0L412.2 602.1L414.8 602.1L415.0 602.3L415.8 602.3L416.0 602.5L417.9 602.9L418.6 603.3L418.8 603.7L416.5 605.0L416.2 605.0L415.6 605.4L415.2 605.4L413.9 606.0L413.3 606.0L413.2 606.2L412.4 606.2L412.2 606.4L411.5 606.4L411.3 606.5L410.1 606.5L410.0 606.7L405.6 606.7L404.7 606.4L403.6 605.2L403.0 603.7L403.0 603.1L402.1 601.0L402.1 600.6L400.6 597.6L400.2 597.2L400.0 596.6L398.9 594.9L398.7 594.9L394.7 597.6L396.6 600.2L398.1 603.3L398.1 603.9L398.3 604.1L398.3 605.4L397.4 606.4L397.0 606.4L396.8 606.5L394.0 606.5L393.8 606.4L393.2 606.4L391.4 605.6L391.2 606.5L390.8 607.1L390.8 607.5L390.4 608.1L390.4 608.5L390.0 609.0ZM434.2 605.6L435.3 603.7L436.3 602.7L437.6 602.7L438.0 602.9L438.7 603.7L439.3 605.2L439.3 605.8L438.1 606.7L436.8 606.7L436.6 606.5L436.1 606.5L435.9 606.4L435.0 606.2ZM367.3 594.9L366.7 595.1L363.2 597.6L365.1 600.2L365.4 601.2L366.2 602.3L366.2 602.7L366.6 603.3L366.6 603.9L366.7 604.1L366.7 605.4L365.8 606.4L365.4 606.4L365.2 606.5L362.4 606.5L362.2 606.4L361.7 606.4L361.5 606.2L360.5 606.0L360.0 605.6L359.6 606.2L359.6 606.5L358.5 609.0L358.5 609.4L358.3 609.6L358.5 610.0L359.2 610.4L359.6 610.4L360.2 610.8L361.7 611.0L361.9 611.1L363.0 611.1L363.2 611.3L365.4 611.3L365.6 611.1L366.9 611.1L367.1 611.0L368.2 610.8L369.9 609.8L371.1 608.5L371.4 607.7L371.6 606.4L371.8 606.2L371.8 605.2L371.6 605.0L371.4 603.1L371.3 602.9L371.1 602.0L370.7 601.4L370.7 601.0L369.0 597.6L368.6 597.2L368.4 596.6ZM187.5 609.8L189.6 610.8L190.1 610.8L191.1 611.1L192.2 611.1L192.4 611.3L195.2 611.3L195.4 611.1L196.9 611.0L197.5 610.6L198.2 610.4L199.3 609.4L200.8 610.6L202.9 611.3L207.6 611.1L207.8 611.0L209.1 610.8L210.2 610.2L210.6 610.2L211.2 609.8L212.7 608.1L213.2 606.5L213.2 605.6L213.4 605.4L213.2 601.6L213.0 601.4L212.9 599.7L212.7 599.5L212.7 598.9L212.5 598.7L212.5 598.1L212.3 597.9L211.9 596.4L211.7 596.2L211.4 596.2L210.6 596.6L210.0 596.6L209.9 596.8L209.3 596.8L209.1 597.0L207.6 597.4L207.6 597.9L208.4 600.0L208.5 601.6L208.7 601.8L208.7 602.5L208.9 602.7L208.9 605.2L208.7 605.6L208.0 606.4L207.0 606.5L206.8 606.7L203.3 606.7L202.1 606.2L201.2 605.0L201.2 604.6L201.0 604.4L200.3 601.8L199.9 601.2L199.9 600.8L197.6 596.4L196.5 594.9L195.8 595.3L193.7 596.8L192.6 597.4L192.6 597.6L193.9 599.5L194.8 601.4L195.2 601.8L195.2 602.1L195.8 603.1L195.9 604.3L196.1 604.4L195.9 605.6L195.4 606.2L194.6 606.5L191.8 606.5L191.6 606.4L191.1 606.4L189.2 605.6L188.8 606.4L188.8 606.7L188.4 607.3L188.4 607.7L188.1 608.3L187.9 609.2ZM348.1 594.1L345.3 597.4L345.3 597.7L346.3 598.3L346.5 598.7L346.1 598.9L344.8 600.4L343.4 602.7L343.4 603.1L343.1 603.9L343.1 604.4L342.9 604.6L342.9 606.7L343.6 608.8L344.9 610.2L346.1 610.8L347.2 611.0L347.4 611.1L348.7 611.1L348.9 611.3L351.3 611.1L353.6 610.0L354.9 608.5L355.5 607.3L355.7 606.2L355.8 606.0L355.8 603.9L355.7 603.7L355.5 602.1L353.8 599.1L350.6 595.8L350.4 595.8L348.7 594.3ZM349.3 600.8L350.6 602.0L351.1 602.7L351.7 604.1L351.7 605.2L351.5 605.4L351.5 605.8L350.2 606.9L349.1 606.9L348.9 606.7L348.0 606.5L347.4 606.0L347.2 605.0L347.0 604.8L347.2 604.6L347.2 603.9L347.8 602.5ZM260.2 594.9L258.1 596.8L257.6 597.9L257.6 598.3L257.4 598.5L257.4 599.5L257.2 599.7L257.4 601.8L258.1 603.7L259.3 605.0L260.4 605.8L258.9 607.3L258.0 608.7L257.8 609.2L257.4 609.6L257.4 610.0L257.0 610.6L256.8 611.7L256.6 611.9L256.6 612.7L256.5 612.9L256.5 615.7L256.6 615.9L256.8 617.5L257.6 619.0L259.1 620.7L260.8 621.9L261.5 622.1L262.1 622.4L262.7 622.4L263.6 622.8L264.3 622.8L264.5 623.0L266.0 623.0L266.2 623.2L269.2 623.2L269.4 623.0L270.5 623.0L270.7 622.8L272.4 622.6L272.6 622.4L273.2 622.4L273.4 622.2L275.4 621.7L275.6 621.5L275.6 621.1L275.4 620.9L275.4 620.5L274.7 618.6L274.7 618.0L274.3 617.3L273.7 617.7L273.4 617.7L272.6 618.0L272.0 618.0L271.1 618.4L270.4 618.4L270.2 618.6L265.5 618.6L265.3 618.4L264.2 618.2L262.7 617.5L261.3 615.9L261.0 615.0L261.0 612.9L261.1 612.7L261.3 611.7L262.3 610.2L263.2 609.2L265.5 607.7L265.8 607.7L267.7 606.7L268.3 606.7L269.0 606.4L269.8 606.4L270.0 606.2L271.3 606.0L271.3 605.8L271.1 605.6L271.1 605.0L270.9 604.8L270.9 604.3L270.7 604.1L270.7 603.5L270.5 603.3L270.5 602.7L270.2 601.8L268.5 602.0L268.3 602.1L267.7 602.1L267.5 602.3L267.0 602.3L266.8 602.5L265.3 602.9L264.7 603.3L264.0 603.3L263.0 602.7L261.9 601.4L261.9 599.8L263.0 598.5L264.0 598.1L266.6 598.1L266.8 598.3L267.5 598.3L267.7 598.1L267.7 597.2L267.9 597.0L267.9 595.8L268.1 595.6L268.1 594.7L268.3 594.5L268.3 594.1L266.2 593.9L266.0 593.7L263.6 593.7L263.4 593.9L262.5 593.9ZM313.6 592.0L312.8 592.6L312.4 593.3L312.4 594.5L313.2 595.6L313.6 595.8L314.9 595.8L315.8 595.1L316.2 594.3L316.2 593.3L315.8 592.6L315.1 592.0ZM308.5 592.0L307.6 593.0L307.4 594.3L307.7 595.1L308.3 595.6L308.7 595.8L310.0 595.8L310.4 595.6L311.1 594.7L311.1 594.3L311.3 594.1L311.1 593.1L310.2 592.0ZM233.3 589.7L232.4 590.1L231.8 590.7L231.5 591.4L231.5 592.8L231.8 593.5L233.0 594.3L234.5 594.3L235.6 593.3L236.0 592.0L235.8 591.8L235.6 590.9L234.7 589.9ZM327.3 588.6L327.3 593.1L327.5 593.3L327.5 600.0L327.7 600.2L327.9 611.1L332.4 611.1L332.4 608.5L332.2 608.3L332.2 601.6L332.0 601.4L332.0 594.9L331.8 594.7L331.8 588.6ZM275.4 588.6L275.4 589.5L275.6 589.7L275.6 594.3L275.8 594.5L275.8 599.3L276.0 599.5L276.0 604.3L276.2 604.4L276.2 606.9L276.4 607.1L276.6 608.5L277.1 609.4L277.9 610.2L279.0 610.8L280.3 611.0L280.5 611.1L281.6 611.1L281.8 611.3L284.4 611.3L284.6 611.1L286.1 611.1L286.3 611.0L286.9 611.0L288.4 610.2L289.7 608.8L290.3 609.8L291.0 610.4L292.2 611.0L293.8 611.1L294.0 611.3L296.8 611.3L297.0 611.1L299.1 611.0L300.8 610.0L301.5 609.2L302.7 610.4L303.6 611.0L304.0 611.0L304.2 611.1L305.1 611.1L305.3 611.3L307.6 611.3L307.7 611.1L308.9 611.1L309.1 611.0L310.0 610.8L310.9 610.0L311.7 608.8L312.4 610.0L313.4 610.8L314.5 611.0L314.7 611.1L317.3 611.3L317.5 611.1L319.6 611.0L320.7 610.4L322.8 608.5L323.3 607.3L323.5 605.8L323.7 605.6L323.7 603.3L323.5 603.1L323.5 602.0L323.3 601.8L323.3 600.8L323.0 599.8L323.0 599.1L322.8 598.9L322.6 597.7L322.0 596.2L321.3 596.6L320.7 596.6L319.4 597.2L318.8 597.2L318.6 597.4L317.7 597.6L317.7 598.1L318.5 600.0L318.5 600.6L318.8 601.4L319.0 602.9L319.2 603.1L319.2 605.4L318.3 606.5L317.9 606.5L317.7 606.7L315.1 606.7L314.3 606.4L313.8 605.6L313.8 603.7L313.9 603.5L314.1 601.2L313.9 601.0L311.7 600.8L311.5 600.6L310.6 600.6L310.4 600.4L310.0 600.4L309.8 600.8L309.6 602.9L309.4 603.1L309.4 603.9L309.2 604.1L309.1 605.0L308.7 605.8L307.9 606.5L307.6 606.5L307.4 606.7L305.1 606.7L304.9 606.5L304.6 606.5L303.8 605.8L303.8 605.4L303.6 605.2L303.6 603.9L303.8 603.7L304.0 601.4L302.3 601.2L302.1 601.0L301.2 601.0L301.0 600.8L300.2 600.8L300.0 600.6L299.9 600.6L299.7 602.1L299.5 602.3L299.5 603.1L299.3 603.3L299.3 603.9L299.1 604.1L298.9 605.0L298.5 605.8L298.0 606.4L297.2 606.7L294.0 606.7L293.8 606.5L293.5 606.5L292.7 606.2L292.0 605.2L292.0 602.7L292.2 602.5L292.2 601.4L292.3 601.0L290.5 600.8L290.3 600.6L289.1 600.6L289.0 600.4L288.0 600.4L288.0 601.2L287.8 601.4L287.8 602.3L287.6 602.5L287.5 604.1L286.9 605.6L286.1 606.4L285.2 606.7L282.4 606.7L282.2 606.5L281.8 606.5L280.9 605.6L280.9 605.0L280.7 604.8L280.7 603.5L280.5 603.3L280.5 599.1L280.3 598.9L280.3 594.9L280.1 594.7L280.1 590.5L279.9 590.3L279.9 588.6ZM311.1 587.6L310.8 587.8L310.0 588.7L310.0 590.3L310.2 590.7L311.1 591.4L312.6 591.4L313.0 591.2L313.6 590.5L313.6 590.1L313.8 589.9L313.8 588.9L312.8 587.8L312.4 587.6Z"/>
<path d="M346.2 136.2L397 128.2L383.5 133.4H535.9V141.4H383.5L397 145.4Z" fill="url(#ga)" stroke="#111" stroke-width="1.1" stroke-linejoin="miter"/>
<path d="M314.4 635.2H319.6V745L323.8 732.8L317.4 770.7L311 732.8L314.4 745Z" fill="url(#gv)" stroke="#111" stroke-width="1"/>
<rect x="289.4" y="776.5" width="59.3" height="38.2" rx="8.5" fill="none" stroke="url(#gb)" stroke-width="3"/>
</svg>
</body></html>
